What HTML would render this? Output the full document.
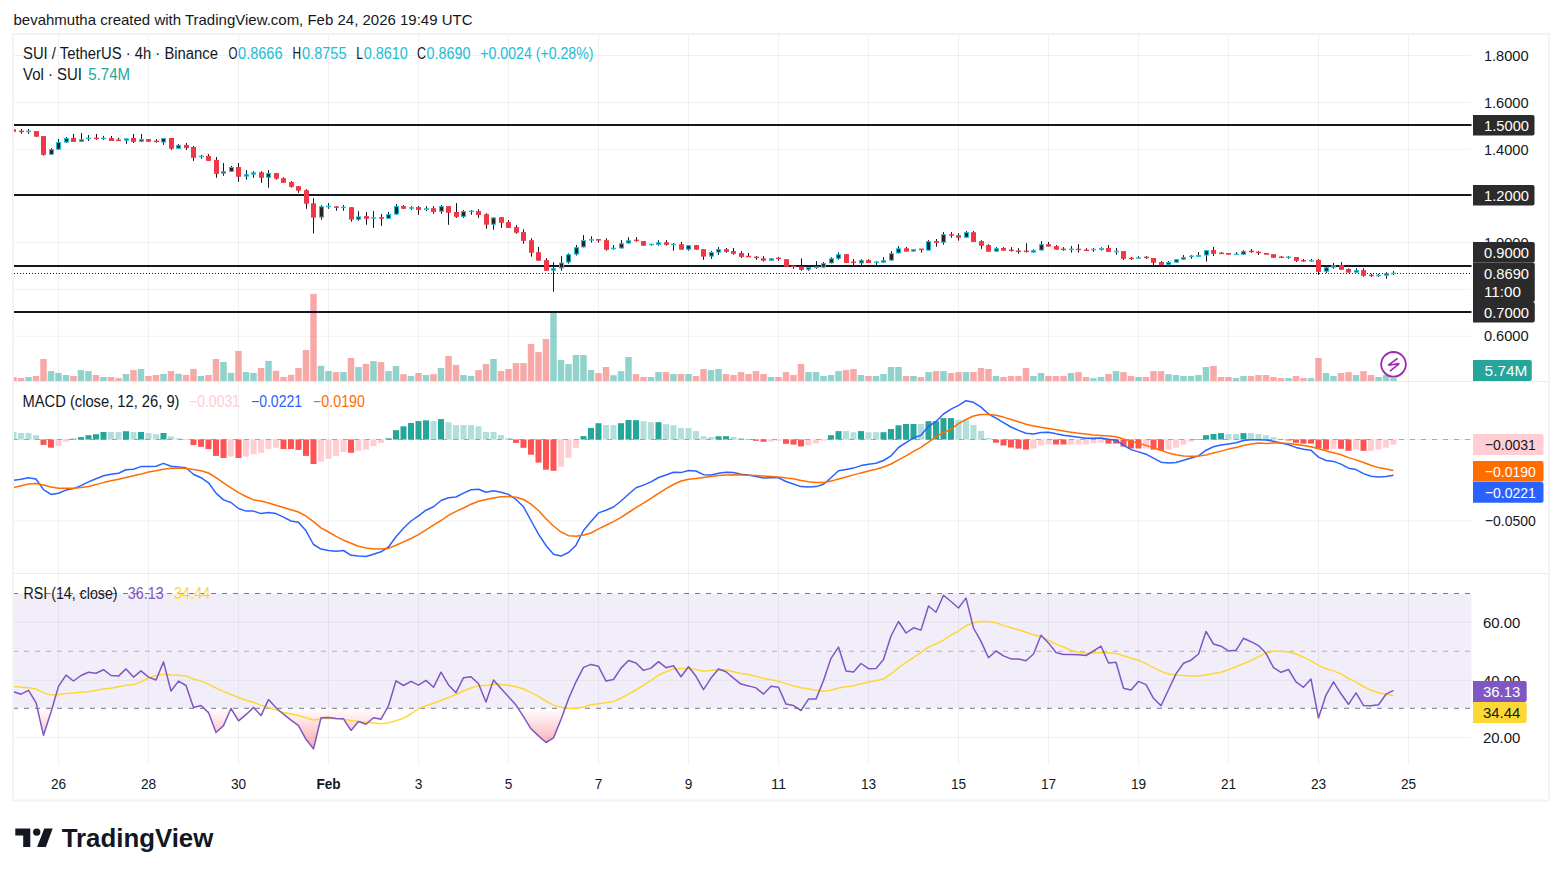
<!DOCTYPE html>
<html><head><meta charset="utf-8"><style>html,body{margin:0;padding:0;background:#fff;width:1562px;height:876px;overflow:hidden}svg{display:block}</style></head>
<body><svg width="1562" height="876" viewBox="0 0 1562 876" font-family="Liberation Sans">
<defs><linearGradient id="os" gradientUnits="userSpaceOnUse" x1="0" y1="708.3" x2="0" y2="750"><stop offset="0" stop-color="#f23645" stop-opacity="0"/><stop offset="1" stop-color="#f23645" stop-opacity="0.45"/></linearGradient><clipPath id="plot"><rect x="14" y="35" width="1457.5" height="730"/></clipPath><clipPath id="pp"><rect x="14" y="35" width="1457.5" height="346"/></clipPath></defs>
<rect width="1562" height="876" fill="#ffffff"/>
<text x="13.5" y="25.2" font-size="15" fill="#131722" text-anchor="start" font-weight="normal" textLength="459" lengthAdjust="spacingAndGlyphs">bevahmutha created with TradingView.com, Feb 24, 2026 19:49 UTC</text>
<rect x="13" y="34" width="1536" height="766.5" fill="none" stroke="#f3f3f3" stroke-width="2"/>
<line x1="58.5" y1="35" x2="58.5" y2="765" stroke="#2a2e39" stroke-opacity="0.065" stroke-width="1"/>
<line x1="148.5" y1="35" x2="148.5" y2="765" stroke="#2a2e39" stroke-opacity="0.065" stroke-width="1"/>
<line x1="238.5" y1="35" x2="238.5" y2="765" stroke="#2a2e39" stroke-opacity="0.065" stroke-width="1"/>
<line x1="328.5" y1="35" x2="328.5" y2="765" stroke="#2a2e39" stroke-opacity="0.065" stroke-width="1"/>
<line x1="418.5" y1="35" x2="418.5" y2="765" stroke="#2a2e39" stroke-opacity="0.065" stroke-width="1"/>
<line x1="508.5" y1="35" x2="508.5" y2="765" stroke="#2a2e39" stroke-opacity="0.065" stroke-width="1"/>
<line x1="598.5" y1="35" x2="598.5" y2="765" stroke="#2a2e39" stroke-opacity="0.065" stroke-width="1"/>
<line x1="688.5" y1="35" x2="688.5" y2="765" stroke="#2a2e39" stroke-opacity="0.065" stroke-width="1"/>
<line x1="778.5" y1="35" x2="778.5" y2="765" stroke="#2a2e39" stroke-opacity="0.065" stroke-width="1"/>
<line x1="868.5" y1="35" x2="868.5" y2="765" stroke="#2a2e39" stroke-opacity="0.065" stroke-width="1"/>
<line x1="958.5" y1="35" x2="958.5" y2="765" stroke="#2a2e39" stroke-opacity="0.065" stroke-width="1"/>
<line x1="1048.5" y1="35" x2="1048.5" y2="765" stroke="#2a2e39" stroke-opacity="0.065" stroke-width="1"/>
<line x1="1138.5" y1="35" x2="1138.5" y2="765" stroke="#2a2e39" stroke-opacity="0.065" stroke-width="1"/>
<line x1="1228.5" y1="35" x2="1228.5" y2="765" stroke="#2a2e39" stroke-opacity="0.065" stroke-width="1"/>
<line x1="1318.5" y1="35" x2="1318.5" y2="765" stroke="#2a2e39" stroke-opacity="0.065" stroke-width="1"/>
<line x1="1408.5" y1="35" x2="1408.5" y2="765" stroke="#2a2e39" stroke-opacity="0.065" stroke-width="1"/>
<line x1="14" y1="55.5" x2="1471.5" y2="55.5" stroke="#2a2e39" stroke-opacity="0.065" stroke-width="1"/>
<line x1="14" y1="102.5" x2="1471.5" y2="102.5" stroke="#2a2e39" stroke-opacity="0.065" stroke-width="1"/>
<line x1="14" y1="149.3" x2="1471.5" y2="149.3" stroke="#2a2e39" stroke-opacity="0.065" stroke-width="1"/>
<line x1="14" y1="195.5" x2="1471.5" y2="195.5" stroke="#2a2e39" stroke-opacity="0.065" stroke-width="1"/>
<line x1="14" y1="242.5" x2="1471.5" y2="242.5" stroke="#2a2e39" stroke-opacity="0.065" stroke-width="1"/>
<line x1="14" y1="289.3" x2="1471.5" y2="289.3" stroke="#2a2e39" stroke-opacity="0.065" stroke-width="1"/>
<line x1="14" y1="336.3" x2="1471.5" y2="336.3" stroke="#2a2e39" stroke-opacity="0.065" stroke-width="1"/>
<line x1="14" y1="439.5" x2="1471.5" y2="439.5" stroke="#2a2e39" stroke-opacity="0.065" stroke-width="1"/>
<line x1="14" y1="521" x2="1471.5" y2="521" stroke="#2a2e39" stroke-opacity="0.065" stroke-width="1"/>
<rect x="14" y="593.5" width="1457.5" height="114.8" fill="#7e57c2" fill-opacity="0.1"/>
<line x1="14" y1="622.3" x2="1471.5" y2="622.3" stroke="#2a2e39" stroke-opacity="0.065" stroke-width="1"/>
<line x1="14" y1="680.3" x2="1471.5" y2="680.3" stroke="#2a2e39" stroke-opacity="0.065" stroke-width="1"/>
<line x1="14" y1="737.5" x2="1471.5" y2="737.5" stroke="#2a2e39" stroke-opacity="0.065" stroke-width="1"/>
<line x1="14" y1="381.5" x2="1548" y2="381.5" stroke="#ececec" stroke-width="1"/>
<line x1="14" y1="573.5" x2="1548" y2="573.5" stroke="#ececec" stroke-width="1"/>
<g clip-path="url(#pp)" fill-opacity="0.5">
<rect x="10.25" y="377" width="6.5" height="4" fill="#ef5350"/>
<rect x="17.75" y="378.1" width="6.5" height="2.9" fill="#ef5350"/>
<rect x="25.25" y="377" width="6.5" height="4" fill="#26a69a"/>
<rect x="32.75" y="376" width="6.5" height="5" fill="#ef5350"/>
<rect x="40.25" y="359" width="6.5" height="22" fill="#ef5350"/>
<rect x="47.75" y="371.1" width="6.5" height="9.9" fill="#26a69a"/>
<rect x="55.25" y="372.9" width="6.5" height="8.1" fill="#26a69a"/>
<rect x="62.75" y="375" width="6.5" height="6" fill="#26a69a"/>
<rect x="70.25" y="376" width="6.5" height="5" fill="#ef5350"/>
<rect x="77.75" y="370.1" width="6.5" height="10.9" fill="#26a69a"/>
<rect x="85.25" y="371.1" width="6.5" height="9.9" fill="#26a69a"/>
<rect x="92.75" y="375" width="6.5" height="6" fill="#ef5350"/>
<rect x="100.25" y="377" width="6.5" height="4" fill="#26a69a"/>
<rect x="107.75" y="377" width="6.5" height="4" fill="#ef5350"/>
<rect x="115.25" y="378.1" width="6.5" height="2.9" fill="#ef5350"/>
<rect x="122.75" y="374" width="6.5" height="7" fill="#26a69a"/>
<rect x="130.25" y="370.1" width="6.5" height="10.9" fill="#ef5350"/>
<rect x="137.75" y="369" width="6.5" height="12" fill="#26a69a"/>
<rect x="145.25" y="376" width="6.5" height="5" fill="#ef5350"/>
<rect x="152.75" y="375" width="6.5" height="6" fill="#ef5350"/>
<rect x="160.25" y="374" width="6.5" height="7" fill="#26a69a"/>
<rect x="167.75" y="371" width="6.5" height="10" fill="#ef5350"/>
<rect x="175.25" y="373.8" width="6.5" height="7.2" fill="#26a69a"/>
<rect x="182.75" y="374.9" width="6.5" height="6.1" fill="#ef5350"/>
<rect x="190.25" y="368.9" width="6.5" height="12.1" fill="#ef5350"/>
<rect x="197.75" y="376" width="6.5" height="5" fill="#26a69a"/>
<rect x="205.25" y="374.9" width="6.5" height="6.1" fill="#ef5350"/>
<rect x="212.75" y="359" width="6.5" height="22" fill="#ef5350"/>
<rect x="220.25" y="362" width="6.5" height="19" fill="#26a69a"/>
<rect x="227.75" y="372.9" width="6.5" height="8.1" fill="#26a69a"/>
<rect x="235.25" y="351" width="6.5" height="30" fill="#ef5350"/>
<rect x="242.75" y="372" width="6.5" height="9" fill="#26a69a"/>
<rect x="250.25" y="372.9" width="6.5" height="8.1" fill="#26a69a"/>
<rect x="257.75" y="368" width="6.5" height="13" fill="#ef5350"/>
<rect x="265.25" y="360.9" width="6.5" height="20.1" fill="#26a69a"/>
<rect x="272.75" y="370.8" width="6.5" height="10.2" fill="#ef5350"/>
<rect x="280.25" y="376.9" width="6.5" height="4.1" fill="#ef5350"/>
<rect x="287.75" y="374.9" width="6.5" height="6.1" fill="#ef5350"/>
<rect x="295.25" y="368" width="6.5" height="13" fill="#ef5350"/>
<rect x="302.75" y="350" width="6.5" height="31" fill="#ef5350"/>
<rect x="310.25" y="293.9" width="6.5" height="87.1" fill="#ef5350"/>
<rect x="317.75" y="365.8" width="6.5" height="15.2" fill="#26a69a"/>
<rect x="325.25" y="371" width="6.5" height="10" fill="#26a69a"/>
<rect x="332.75" y="372.1" width="6.5" height="8.9" fill="#ef5350"/>
<rect x="340.25" y="372.1" width="6.5" height="8.9" fill="#26a69a"/>
<rect x="347.75" y="358" width="6.5" height="23" fill="#ef5350"/>
<rect x="355.25" y="367" width="6.5" height="14" fill="#26a69a"/>
<rect x="362.75" y="363.9" width="6.5" height="17.1" fill="#ef5350"/>
<rect x="370.25" y="361.1" width="6.5" height="19.9" fill="#26a69a"/>
<rect x="377.75" y="362.1" width="6.5" height="18.9" fill="#ef5350"/>
<rect x="385.25" y="371.1" width="6.5" height="9.9" fill="#26a69a"/>
<rect x="392.75" y="366" width="6.5" height="15" fill="#26a69a"/>
<rect x="400.25" y="374.2" width="6.5" height="6.8" fill="#ef5350"/>
<rect x="407.75" y="376" width="6.5" height="5" fill="#26a69a"/>
<rect x="415.25" y="373" width="6.5" height="8" fill="#ef5350"/>
<rect x="422.75" y="375" width="6.5" height="6" fill="#26a69a"/>
<rect x="430.25" y="374.2" width="6.5" height="6.8" fill="#ef5350"/>
<rect x="437.75" y="368" width="6.5" height="13" fill="#26a69a"/>
<rect x="445.25" y="355.9" width="6.5" height="25.1" fill="#ef5350"/>
<rect x="452.75" y="364.9" width="6.5" height="16.1" fill="#ef5350"/>
<rect x="460.25" y="375" width="6.5" height="6" fill="#26a69a"/>
<rect x="467.75" y="376" width="6.5" height="5" fill="#26a69a"/>
<rect x="475.25" y="370.1" width="6.5" height="10.9" fill="#ef5350"/>
<rect x="482.75" y="364.1" width="6.5" height="16.9" fill="#ef5350"/>
<rect x="490.25" y="359" width="6.5" height="22" fill="#26a69a"/>
<rect x="497.75" y="371.1" width="6.5" height="9.9" fill="#ef5350"/>
<rect x="505.25" y="369" width="6.5" height="12" fill="#ef5350"/>
<rect x="512.75" y="363.1" width="6.5" height="17.9" fill="#ef5350"/>
<rect x="520.25" y="363.1" width="6.5" height="17.9" fill="#ef5350"/>
<rect x="527.75" y="343.9" width="6.5" height="37.1" fill="#ef5350"/>
<rect x="535.25" y="352.1" width="6.5" height="28.9" fill="#ef5350"/>
<rect x="542.75" y="339" width="6.5" height="42" fill="#ef5350"/>
<rect x="550.25" y="313" width="6.5" height="68" fill="#26a69a"/>
<rect x="557.75" y="360" width="6.5" height="21" fill="#26a69a"/>
<rect x="565.25" y="364.1" width="6.5" height="16.9" fill="#26a69a"/>
<rect x="572.75" y="355" width="6.5" height="26" fill="#26a69a"/>
<rect x="580.25" y="355" width="6.5" height="26" fill="#26a69a"/>
<rect x="587.75" y="370" width="6.5" height="11" fill="#26a69a"/>
<rect x="595.25" y="373.1" width="6.5" height="7.9" fill="#ef5350"/>
<rect x="602.75" y="367" width="6.5" height="14" fill="#ef5350"/>
<rect x="610.25" y="375.2" width="6.5" height="5.8" fill="#26a69a"/>
<rect x="617.75" y="371.1" width="6.5" height="9.9" fill="#26a69a"/>
<rect x="625.25" y="357" width="6.5" height="24" fill="#26a69a"/>
<rect x="632.75" y="374.1" width="6.5" height="6.9" fill="#ef5350"/>
<rect x="640.25" y="377" width="6.5" height="4" fill="#ef5350"/>
<rect x="647.75" y="377" width="6.5" height="4" fill="#26a69a"/>
<rect x="655.25" y="372.1" width="6.5" height="8.9" fill="#26a69a"/>
<rect x="662.75" y="372.1" width="6.5" height="8.9" fill="#ef5350"/>
<rect x="670.25" y="374" width="6.5" height="7" fill="#26a69a"/>
<rect x="677.75" y="374" width="6.5" height="7" fill="#ef5350"/>
<rect x="685.25" y="374" width="6.5" height="7" fill="#26a69a"/>
<rect x="692.75" y="376" width="6.5" height="5" fill="#ef5350"/>
<rect x="700.25" y="369" width="6.5" height="12" fill="#ef5350"/>
<rect x="707.75" y="370.1" width="6.5" height="10.9" fill="#26a69a"/>
<rect x="715.25" y="369" width="6.5" height="12" fill="#26a69a"/>
<rect x="722.75" y="374" width="6.5" height="7" fill="#ef5350"/>
<rect x="730.25" y="375" width="6.5" height="6" fill="#ef5350"/>
<rect x="737.75" y="372.1" width="6.5" height="8.9" fill="#ef5350"/>
<rect x="745.25" y="374" width="6.5" height="7" fill="#ef5350"/>
<rect x="752.75" y="371.1" width="6.5" height="9.9" fill="#ef5350"/>
<rect x="760.25" y="374" width="6.5" height="7" fill="#ef5350"/>
<rect x="767.75" y="377" width="6.5" height="4" fill="#26a69a"/>
<rect x="775.25" y="377" width="6.5" height="4" fill="#ef5350"/>
<rect x="782.75" y="372.1" width="6.5" height="8.9" fill="#ef5350"/>
<rect x="790.25" y="375" width="6.5" height="6" fill="#ef5350"/>
<rect x="797.75" y="363.9" width="6.5" height="17.1" fill="#ef5350"/>
<rect x="805.25" y="372.1" width="6.5" height="8.9" fill="#26a69a"/>
<rect x="812.75" y="372.1" width="6.5" height="8.9" fill="#26a69a"/>
<rect x="820.25" y="376" width="6.5" height="5" fill="#26a69a"/>
<rect x="827.75" y="375" width="6.5" height="6" fill="#26a69a"/>
<rect x="835.25" y="371.1" width="6.5" height="9.9" fill="#26a69a"/>
<rect x="842.75" y="370.1" width="6.5" height="10.9" fill="#ef5350"/>
<rect x="850.25" y="369" width="6.5" height="12" fill="#ef5350"/>
<rect x="857.75" y="375" width="6.5" height="6" fill="#26a69a"/>
<rect x="865.25" y="376" width="6.5" height="5" fill="#ef5350"/>
<rect x="872.75" y="376" width="6.5" height="5" fill="#26a69a"/>
<rect x="880.25" y="374" width="6.5" height="7" fill="#26a69a"/>
<rect x="887.75" y="367" width="6.5" height="14" fill="#26a69a"/>
<rect x="895.25" y="367" width="6.5" height="14" fill="#26a69a"/>
<rect x="902.75" y="376" width="6.5" height="5" fill="#ef5350"/>
<rect x="910.25" y="376" width="6.5" height="5" fill="#26a69a"/>
<rect x="917.75" y="377" width="6.5" height="4" fill="#ef5350"/>
<rect x="925.25" y="372.1" width="6.5" height="8.9" fill="#26a69a"/>
<rect x="932.75" y="371.1" width="6.5" height="9.9" fill="#ef5350"/>
<rect x="940.25" y="371.1" width="6.5" height="9.9" fill="#26a69a"/>
<rect x="947.75" y="373" width="6.5" height="8" fill="#ef5350"/>
<rect x="955.25" y="372.1" width="6.5" height="8.9" fill="#ef5350"/>
<rect x="962.75" y="372.1" width="6.5" height="8.9" fill="#26a69a"/>
<rect x="970.25" y="372.1" width="6.5" height="8.9" fill="#ef5350"/>
<rect x="977.75" y="368" width="6.5" height="13" fill="#ef5350"/>
<rect x="985.25" y="369" width="6.5" height="12" fill="#ef5350"/>
<rect x="992.75" y="376" width="6.5" height="5" fill="#26a69a"/>
<rect x="1000.25" y="377" width="6.5" height="4" fill="#ef5350"/>
<rect x="1007.75" y="376" width="6.5" height="5" fill="#ef5350"/>
<rect x="1015.25" y="376" width="6.5" height="5" fill="#ef5350"/>
<rect x="1022.75" y="368" width="6.5" height="13" fill="#ef5350"/>
<rect x="1030.25" y="376" width="6.5" height="5" fill="#26a69a"/>
<rect x="1037.75" y="373" width="6.5" height="8" fill="#26a69a"/>
<rect x="1045.25" y="376" width="6.5" height="5" fill="#ef5350"/>
<rect x="1052.75" y="376" width="6.5" height="5" fill="#ef5350"/>
<rect x="1060.25" y="376" width="6.5" height="5" fill="#ef5350"/>
<rect x="1067.75" y="373" width="6.5" height="8" fill="#26a69a"/>
<rect x="1075.25" y="372.1" width="6.5" height="8.9" fill="#ef5350"/>
<rect x="1082.75" y="377" width="6.5" height="4" fill="#ef5350"/>
<rect x="1090.25" y="378.1" width="6.5" height="2.9" fill="#26a69a"/>
<rect x="1097.75" y="377" width="6.5" height="4" fill="#26a69a"/>
<rect x="1105.25" y="374" width="6.5" height="7" fill="#ef5350"/>
<rect x="1112.75" y="371.1" width="6.5" height="9.9" fill="#26a69a"/>
<rect x="1120.25" y="372.1" width="6.5" height="8.9" fill="#ef5350"/>
<rect x="1127.75" y="376" width="6.5" height="5" fill="#ef5350"/>
<rect x="1135.25" y="377" width="6.5" height="4" fill="#26a69a"/>
<rect x="1142.75" y="377" width="6.5" height="4" fill="#ef5350"/>
<rect x="1150.25" y="371.1" width="6.5" height="9.9" fill="#ef5350"/>
<rect x="1157.75" y="371.1" width="6.5" height="9.9" fill="#ef5350"/>
<rect x="1165.25" y="374.2" width="6.5" height="6.8" fill="#26a69a"/>
<rect x="1172.75" y="375" width="6.5" height="6" fill="#26a69a"/>
<rect x="1180.25" y="376" width="6.5" height="5" fill="#26a69a"/>
<rect x="1187.75" y="376" width="6.5" height="5" fill="#26a69a"/>
<rect x="1195.25" y="375" width="6.5" height="6" fill="#26a69a"/>
<rect x="1202.75" y="367" width="6.5" height="14" fill="#26a69a"/>
<rect x="1210.25" y="366" width="6.5" height="15" fill="#ef5350"/>
<rect x="1217.75" y="377" width="6.5" height="4" fill="#ef5350"/>
<rect x="1225.25" y="377" width="6.5" height="4" fill="#ef5350"/>
<rect x="1232.75" y="378.1" width="6.5" height="2.9" fill="#26a69a"/>
<rect x="1240.25" y="376" width="6.5" height="5" fill="#26a69a"/>
<rect x="1247.75" y="376" width="6.5" height="5" fill="#ef5350"/>
<rect x="1255.25" y="375" width="6.5" height="6" fill="#ef5350"/>
<rect x="1262.75" y="375" width="6.5" height="6" fill="#ef5350"/>
<rect x="1270.25" y="377" width="6.5" height="4" fill="#ef5350"/>
<rect x="1277.75" y="378.1" width="6.5" height="2.9" fill="#ef5350"/>
<rect x="1285.25" y="378.1" width="6.5" height="2.9" fill="#26a69a"/>
<rect x="1292.75" y="376" width="6.5" height="5" fill="#ef5350"/>
<rect x="1300.25" y="378.1" width="6.5" height="2.9" fill="#ef5350"/>
<rect x="1307.75" y="378.1" width="6.5" height="2.9" fill="#26a69a"/>
<rect x="1315.25" y="358" width="6.5" height="23" fill="#ef5350"/>
<rect x="1322.75" y="373" width="6.5" height="8" fill="#26a69a"/>
<rect x="1330.25" y="376" width="6.5" height="5" fill="#26a69a"/>
<rect x="1337.75" y="373" width="6.5" height="8" fill="#ef5350"/>
<rect x="1345.25" y="372.1" width="6.5" height="8.9" fill="#ef5350"/>
<rect x="1352.75" y="375" width="6.5" height="6" fill="#26a69a"/>
<rect x="1360.25" y="371.1" width="6.5" height="9.9" fill="#ef5350"/>
<rect x="1367.75" y="375" width="6.5" height="6" fill="#ef5350"/>
<rect x="1375.25" y="377" width="6.5" height="4" fill="#26a69a"/>
<rect x="1382.75" y="375" width="6.5" height="6" fill="#26a69a"/>
<rect x="1390.25" y="378.1" width="6.5" height="2.9" fill="#26a69a"/>
</g>
<line x1="14" y1="125" x2="1471.5" y2="125" stroke="#131722" stroke-width="2"/>
<line x1="14" y1="195" x2="1471.5" y2="195" stroke="#131722" stroke-width="2"/>
<line x1="14" y1="266" x2="1471.5" y2="266" stroke="#131722" stroke-width="2"/>
<line x1="14" y1="312" x2="1471.5" y2="312" stroke="#131722" stroke-width="2"/>
<line x1="14" y1="273.5" x2="1471.5" y2="273.5" stroke="#131722" stroke-width="1" stroke-dasharray="1 2"/>
<g clip-path="url(#pp)">
<line x1="13.5" y1="127.3" x2="13.5" y2="131.9" stroke="#131722" stroke-width="1"/>
<rect x="11" y="129.2" width="5" height="2.7" fill="#f23645"/>
<line x1="21.5" y1="129" x2="21.5" y2="133.8" stroke="#131722" stroke-width="1"/>
<rect x="19" y="130.65" width="5" height="1.5" fill="#f23645"/>
<line x1="28.5" y1="129" x2="28.5" y2="133.8" stroke="#131722" stroke-width="1"/>
<rect x="26" y="130.65" width="5" height="1.5" fill="#1fc0d8"/>
<line x1="36.5" y1="131.1" x2="36.5" y2="136.7" stroke="#131722" stroke-width="1"/>
<rect x="34" y="131.1" width="5" height="5.6" fill="#f23645"/>
<line x1="43.5" y1="136.1" x2="43.5" y2="155.7" stroke="#131722" stroke-width="1"/>
<rect x="41" y="136.1" width="5" height="18.7" fill="#f23645"/>
<line x1="51.5" y1="148" x2="51.5" y2="154.8" stroke="#131722" stroke-width="1"/>
<rect x="49.5" y="149.7" width="4" height="4.6" fill="#2a2222" stroke="#1fc0d8" stroke-width="1"/>
<line x1="58.5" y1="139" x2="58.5" y2="149.7" stroke="#131722" stroke-width="1"/>
<rect x="56.5" y="142.5" width="4" height="6.7" fill="#2a2222" stroke="#1fc0d8" stroke-width="1"/>
<line x1="66.5" y1="137.1" x2="66.5" y2="142.6" stroke="#131722" stroke-width="1"/>
<rect x="64.5" y="138.5" width="4" height="3.6" fill="#2a2222" stroke="#1fc0d8" stroke-width="1"/>
<line x1="73.5" y1="134" x2="73.5" y2="141.9" stroke="#131722" stroke-width="1"/>
<rect x="71" y="137.9" width="5" height="4" fill="#f23645"/>
<line x1="81.5" y1="133" x2="81.5" y2="141.9" stroke="#131722" stroke-width="1"/>
<rect x="79.5" y="139.7" width="4" height="1.7" fill="#2a2222" stroke="#1fc0d8" stroke-width="1"/>
<line x1="88.5" y1="135.1" x2="88.5" y2="141" stroke="#131722" stroke-width="1"/>
<rect x="86" y="137.65" width="5" height="1.5" fill="#1fc0d8"/>
<line x1="96.5" y1="134" x2="96.5" y2="139.7" stroke="#131722" stroke-width="1"/>
<rect x="94" y="137.65" width="5" height="1.5" fill="#f23645"/>
<line x1="103.5" y1="135.9" x2="103.5" y2="140" stroke="#131722" stroke-width="1"/>
<rect x="101" y="137.65" width="5" height="1.5" fill="#1fc0d8"/>
<line x1="111.5" y1="135.9" x2="111.5" y2="141" stroke="#131722" stroke-width="1"/>
<rect x="109" y="138" width="5" height="3" fill="#f23645"/>
<line x1="118.5" y1="137.9" x2="118.5" y2="140.3" stroke="#131722" stroke-width="1"/>
<rect x="116" y="139.55" width="5" height="1.5" fill="#f23645"/>
<line x1="126.5" y1="138.4" x2="126.5" y2="143.8" stroke="#131722" stroke-width="1"/>
<rect x="124.5" y="138.9" width="4" height="1.3" fill="#2a2222" stroke="#1fc0d8" stroke-width="1"/>
<line x1="133.5" y1="134" x2="133.5" y2="143" stroke="#131722" stroke-width="1"/>
<rect x="131" y="138" width="5" height="3.8" fill="#f23645"/>
<line x1="141.5" y1="134" x2="141.5" y2="141.8" stroke="#131722" stroke-width="1"/>
<rect x="139.5" y="139.6" width="4" height="1.7" fill="#2a2222" stroke="#1fc0d8" stroke-width="1"/>
<line x1="148.5" y1="139.1" x2="148.5" y2="141.8" stroke="#131722" stroke-width="1"/>
<rect x="146" y="139.1" width="5" height="2.7" fill="#f23645"/>
<line x1="156.5" y1="139.1" x2="156.5" y2="142.7" stroke="#131722" stroke-width="1"/>
<rect x="154" y="140.65" width="5" height="1.5" fill="#f23645"/>
<line x1="163.5" y1="138" x2="163.5" y2="144.9" stroke="#131722" stroke-width="1"/>
<rect x="161.5" y="138.5" width="4" height="3.6" fill="#2a2222" stroke="#1fc0d8" stroke-width="1"/>
<line x1="171.5" y1="138" x2="171.5" y2="149.9" stroke="#131722" stroke-width="1"/>
<rect x="169" y="138" width="5" height="10.7" fill="#f23645"/>
<line x1="178.5" y1="144" x2="178.5" y2="148.7" stroke="#131722" stroke-width="1"/>
<rect x="176.5" y="145.4" width="4" height="2.8" fill="#2a2222" stroke="#1fc0d8" stroke-width="1"/>
<line x1="186.5" y1="143" x2="186.5" y2="149.9" stroke="#131722" stroke-width="1"/>
<rect x="184" y="144.9" width="5" height="3.1" fill="#f23645"/>
<line x1="193.5" y1="146" x2="193.5" y2="160.9" stroke="#131722" stroke-width="1"/>
<rect x="191" y="147" width="5" height="10.8" fill="#f23645"/>
<line x1="201.5" y1="154.9" x2="201.5" y2="158.7" stroke="#131722" stroke-width="1"/>
<rect x="199" y="155.65" width="5" height="1.5" fill="#1fc0d8"/>
<line x1="208.5" y1="154.1" x2="208.5" y2="160.9" stroke="#131722" stroke-width="1"/>
<rect x="206" y="156" width="5" height="4.9" fill="#f23645"/>
<line x1="216.5" y1="157" x2="216.5" y2="177.8" stroke="#131722" stroke-width="1"/>
<rect x="214" y="159.9" width="5" height="14" fill="#f23645"/>
<line x1="223.5" y1="163" x2="223.5" y2="175.8" stroke="#131722" stroke-width="1"/>
<rect x="221.5" y="171.7" width="4" height="1.5" fill="#2a2222" stroke="#1fc0d8" stroke-width="1"/>
<line x1="231.5" y1="166" x2="231.5" y2="171.8" stroke="#131722" stroke-width="1"/>
<rect x="229.5" y="167.5" width="4" height="3.8" fill="#2a2222" stroke="#1fc0d8" stroke-width="1"/>
<line x1="238.5" y1="163" x2="238.5" y2="181.8" stroke="#131722" stroke-width="1"/>
<rect x="236" y="167" width="5" height="9.8" fill="#f23645"/>
<line x1="246.5" y1="170.1" x2="246.5" y2="179.7" stroke="#131722" stroke-width="1"/>
<rect x="244.5" y="174.7" width="4" height="1.4" fill="#2a2222" stroke="#1fc0d8" stroke-width="1"/>
<line x1="253.5" y1="171.2" x2="253.5" y2="177.8" stroke="#131722" stroke-width="1"/>
<rect x="251.5" y="172.8" width="4" height="1.3" fill="#2a2222" stroke="#1fc0d8" stroke-width="1"/>
<line x1="261.5" y1="171.2" x2="261.5" y2="182.8" stroke="#131722" stroke-width="1"/>
<rect x="259" y="172.3" width="5" height="5.5" fill="#f23645"/>
<line x1="268.5" y1="170.1" x2="268.5" y2="187.7" stroke="#131722" stroke-width="1"/>
<rect x="266.5" y="173.6" width="4" height="3.7" fill="#2a2222" stroke="#1fc0d8" stroke-width="1"/>
<line x1="276.5" y1="173.1" x2="276.5" y2="179.7" stroke="#131722" stroke-width="1"/>
<rect x="274" y="173.1" width="5" height="5.6" fill="#f23645"/>
<line x1="283.5" y1="177.2" x2="283.5" y2="182.8" stroke="#131722" stroke-width="1"/>
<rect x="281" y="178.3" width="5" height="4.5" fill="#f23645"/>
<line x1="291.5" y1="181.1" x2="291.5" y2="187.7" stroke="#131722" stroke-width="1"/>
<rect x="289" y="182.1" width="5" height="4.7" fill="#f23645"/>
<line x1="298.5" y1="186.2" x2="298.5" y2="192.8" stroke="#131722" stroke-width="1"/>
<rect x="296" y="186.2" width="5" height="4.5" fill="#f23645"/>
<line x1="306.5" y1="189.2" x2="306.5" y2="208.8" stroke="#131722" stroke-width="1"/>
<rect x="304" y="190.2" width="5" height="13.5" fill="#f23645"/>
<line x1="313.5" y1="198.2" x2="313.5" y2="233.5" stroke="#131722" stroke-width="1"/>
<rect x="311" y="203.3" width="5" height="14.3" fill="#f23645"/>
<line x1="321.5" y1="205.2" x2="321.5" y2="219.8" stroke="#131722" stroke-width="1"/>
<rect x="319.5" y="206.8" width="4" height="10.3" fill="#2a2222" stroke="#1fc0d8" stroke-width="1"/>
<line x1="328.5" y1="203.1" x2="328.5" y2="208.8" stroke="#131722" stroke-width="1"/>
<rect x="326" y="205.75" width="5" height="1.5" fill="#1fc0d8"/>
<line x1="336.5" y1="206.3" x2="336.5" y2="210.8" stroke="#131722" stroke-width="1"/>
<rect x="334" y="206.3" width="5" height="1.5" fill="#f23645"/>
<line x1="343.5" y1="205" x2="343.5" y2="210.8" stroke="#131722" stroke-width="1"/>
<rect x="341" y="206.65" width="5" height="1.5" fill="#1fc0d8"/>
<line x1="351.5" y1="207.2" x2="351.5" y2="221.7" stroke="#131722" stroke-width="1"/>
<rect x="349" y="207.2" width="5" height="12.4" fill="#f23645"/>
<line x1="358.5" y1="211.2" x2="358.5" y2="220.8" stroke="#131722" stroke-width="1"/>
<rect x="356.5" y="216.9" width="4" height="2.4" fill="#2a2222" stroke="#1fc0d8" stroke-width="1"/>
<line x1="366.5" y1="212" x2="366.5" y2="224.8" stroke="#131722" stroke-width="1"/>
<rect x="364" y="216.1" width="5" height="2.7" fill="#f23645"/>
<line x1="373.5" y1="211.1" x2="373.5" y2="227.9" stroke="#131722" stroke-width="1"/>
<rect x="371" y="217.3" width="5" height="1.5" fill="#1fc0d8"/>
<line x1="381.5" y1="214" x2="381.5" y2="225.9" stroke="#131722" stroke-width="1"/>
<rect x="379" y="217.1" width="5" height="1.7" fill="#f23645"/>
<line x1="388.5" y1="212" x2="388.5" y2="218.8" stroke="#131722" stroke-width="1"/>
<rect x="386.5" y="214.7" width="4" height="3.6" fill="#2a2222" stroke="#1fc0d8" stroke-width="1"/>
<line x1="396.5" y1="204.1" x2="396.5" y2="214.6" stroke="#131722" stroke-width="1"/>
<rect x="394.5" y="206.6" width="4" height="7.5" fill="#2a2222" stroke="#1fc0d8" stroke-width="1"/>
<line x1="403.5" y1="205" x2="403.5" y2="208.8" stroke="#131722" stroke-width="1"/>
<rect x="401" y="206.1" width="5" height="2.7" fill="#f23645"/>
<line x1="411.5" y1="206.1" x2="411.5" y2="210" stroke="#131722" stroke-width="1"/>
<rect x="409" y="207.1" width="5" height="1.7" fill="#1fc0d8"/>
<line x1="418.5" y1="206.1" x2="418.5" y2="214.8" stroke="#131722" stroke-width="1"/>
<rect x="416" y="207.1" width="5" height="2.9" fill="#f23645"/>
<line x1="426.5" y1="206.1" x2="426.5" y2="211.1" stroke="#131722" stroke-width="1"/>
<rect x="424" y="208.2" width="5" height="1.8" fill="#1fc0d8"/>
<line x1="433.5" y1="206.1" x2="433.5" y2="213.8" stroke="#131722" stroke-width="1"/>
<rect x="431" y="208.2" width="5" height="3.7" fill="#f23645"/>
<line x1="441.5" y1="205" x2="441.5" y2="213.8" stroke="#131722" stroke-width="1"/>
<rect x="439.5" y="206.6" width="4" height="4.6" fill="#2a2222" stroke="#1fc0d8" stroke-width="1"/>
<line x1="448.5" y1="206.1" x2="448.5" y2="224.8" stroke="#131722" stroke-width="1"/>
<rect x="446" y="206.1" width="5" height="6.7" fill="#f23645"/>
<line x1="456.5" y1="203.1" x2="456.5" y2="217.9" stroke="#131722" stroke-width="1"/>
<rect x="454" y="212" width="5" height="4.9" fill="#f23645"/>
<line x1="463.5" y1="210" x2="463.5" y2="217.9" stroke="#131722" stroke-width="1"/>
<rect x="461.5" y="211.6" width="4" height="4.8" fill="#2a2222" stroke="#1fc0d8" stroke-width="1"/>
<line x1="471.5" y1="210" x2="471.5" y2="214.8" stroke="#131722" stroke-width="1"/>
<rect x="469" y="210.65" width="5" height="1.5" fill="#1fc0d8"/>
<line x1="478.5" y1="209.2" x2="478.5" y2="217.9" stroke="#131722" stroke-width="1"/>
<rect x="476" y="211.1" width="5" height="3.9" fill="#f23645"/>
<line x1="486.5" y1="213.2" x2="486.5" y2="228.8" stroke="#131722" stroke-width="1"/>
<rect x="484" y="214.2" width="5" height="10.5" fill="#f23645"/>
<line x1="493.5" y1="217.4" x2="493.5" y2="229.7" stroke="#131722" stroke-width="1"/>
<rect x="491.5" y="217.9" width="4" height="6.3" fill="#2a2222" stroke="#1fc0d8" stroke-width="1"/>
<line x1="501.5" y1="217.2" x2="501.5" y2="227.9" stroke="#131722" stroke-width="1"/>
<rect x="499" y="217.2" width="5" height="5.6" fill="#f23645"/>
<line x1="508.5" y1="220.1" x2="508.5" y2="227.9" stroke="#131722" stroke-width="1"/>
<rect x="506" y="222.1" width="5" height="5.8" fill="#f23645"/>
<line x1="516.5" y1="225.1" x2="516.5" y2="233.8" stroke="#131722" stroke-width="1"/>
<rect x="514" y="227.1" width="5" height="5.6" fill="#f23645"/>
<line x1="523.5" y1="229.2" x2="523.5" y2="243.8" stroke="#131722" stroke-width="1"/>
<rect x="521" y="232.1" width="5" height="8.8" fill="#f23645"/>
<line x1="531.5" y1="238.2" x2="531.5" y2="256.6" stroke="#131722" stroke-width="1"/>
<rect x="529" y="240.2" width="5" height="12.6" fill="#f23645"/>
<line x1="538.5" y1="247" x2="538.5" y2="260.7" stroke="#131722" stroke-width="1"/>
<rect x="536" y="252.2" width="5" height="8.5" fill="#f23645"/>
<line x1="546.5" y1="258.1" x2="546.5" y2="270.8" stroke="#131722" stroke-width="1"/>
<rect x="544" y="260.1" width="5" height="10.7" fill="#f23645"/>
<line x1="553.5" y1="262.2" x2="553.5" y2="291.7" stroke="#131722" stroke-width="1"/>
<rect x="551.5" y="268.7" width="4" height="1.5" fill="#2a2222" stroke="#1fc0d8" stroke-width="1"/>
<line x1="561.5" y1="256.1" x2="561.5" y2="270.7" stroke="#131722" stroke-width="1"/>
<rect x="559.5" y="263" width="4" height="4.9" fill="#2a2222" stroke="#1fc0d8" stroke-width="1"/>
<line x1="568.5" y1="253.3" x2="568.5" y2="263.7" stroke="#131722" stroke-width="1"/>
<rect x="566.5" y="254.7" width="4" height="7.3" fill="#2a2222" stroke="#1fc0d8" stroke-width="1"/>
<line x1="576.5" y1="245.1" x2="576.5" y2="255.6" stroke="#131722" stroke-width="1"/>
<rect x="574.5" y="247.7" width="4" height="6.3" fill="#2a2222" stroke="#1fc0d8" stroke-width="1"/>
<line x1="583.5" y1="235.1" x2="583.5" y2="247.4" stroke="#131722" stroke-width="1"/>
<rect x="581.5" y="240.6" width="4" height="6.3" fill="#2a2222" stroke="#1fc0d8" stroke-width="1"/>
<line x1="591.5" y1="236.3" x2="591.5" y2="242.6" stroke="#131722" stroke-width="1"/>
<rect x="589" y="239.15" width="5" height="1.5" fill="#1fc0d8"/>
<line x1="598.5" y1="239.2" x2="598.5" y2="242.6" stroke="#131722" stroke-width="1"/>
<rect x="596" y="239.1" width="5" height="1.5" fill="#f23645"/>
<line x1="606.5" y1="238.3" x2="606.5" y2="250.6" stroke="#131722" stroke-width="1"/>
<rect x="604" y="240.1" width="5" height="9.6" fill="#f23645"/>
<line x1="613.5" y1="245.1" x2="613.5" y2="249.7" stroke="#131722" stroke-width="1"/>
<rect x="611" y="247.75" width="5" height="1.5" fill="#1fc0d8"/>
<line x1="621.5" y1="240.1" x2="621.5" y2="248.5" stroke="#131722" stroke-width="1"/>
<rect x="619.5" y="243.8" width="4" height="4.2" fill="#2a2222" stroke="#1fc0d8" stroke-width="1"/>
<line x1="628.5" y1="237.2" x2="628.5" y2="243.5" stroke="#131722" stroke-width="1"/>
<rect x="626.5" y="240.8" width="4" height="2.2" fill="#2a2222" stroke="#1fc0d8" stroke-width="1"/>
<line x1="636.5" y1="237.1" x2="636.5" y2="241.7" stroke="#131722" stroke-width="1"/>
<rect x="634" y="239.65" width="5" height="1.5" fill="#f23645"/>
<line x1="643.5" y1="241.1" x2="643.5" y2="245.7" stroke="#131722" stroke-width="1"/>
<rect x="641" y="241.1" width="5" height="4.6" fill="#f23645"/>
<line x1="651.5" y1="244.4" x2="651.5" y2="245.7" stroke="#131722" stroke-width="1"/>
<rect x="649" y="243.65" width="5" height="1.5" fill="#1fc0d8"/>
<line x1="658.5" y1="240.2" x2="658.5" y2="245.7" stroke="#131722" stroke-width="1"/>
<rect x="656.5" y="242.8" width="4" height="1.5" fill="#2a2222" stroke="#1fc0d8" stroke-width="1"/>
<line x1="666.5" y1="240.2" x2="666.5" y2="245.7" stroke="#131722" stroke-width="1"/>
<rect x="664" y="242.3" width="5" height="2.5" fill="#f23645"/>
<line x1="673.5" y1="243" x2="673.5" y2="250.7" stroke="#131722" stroke-width="1"/>
<rect x="671" y="243.65" width="5" height="1.5" fill="#1fc0d8"/>
<line x1="681.5" y1="242" x2="681.5" y2="249.7" stroke="#131722" stroke-width="1"/>
<rect x="679" y="244.2" width="5" height="5.5" fill="#f23645"/>
<line x1="688.5" y1="245.1" x2="688.5" y2="250.7" stroke="#131722" stroke-width="1"/>
<rect x="686.5" y="245.6" width="4" height="3.6" fill="#2a2222" stroke="#1fc0d8" stroke-width="1"/>
<line x1="696.5" y1="245.1" x2="696.5" y2="249.7" stroke="#131722" stroke-width="1"/>
<rect x="694" y="245.1" width="5" height="4.6" fill="#f23645"/>
<line x1="703.5" y1="249.2" x2="703.5" y2="259.9" stroke="#131722" stroke-width="1"/>
<rect x="701" y="249.2" width="5" height="7.4" fill="#f23645"/>
<line x1="711.5" y1="251.1" x2="711.5" y2="258.8" stroke="#131722" stroke-width="1"/>
<rect x="709.5" y="252.5" width="4" height="3.6" fill="#2a2222" stroke="#1fc0d8" stroke-width="1"/>
<line x1="718.5" y1="247.1" x2="718.5" y2="254.8" stroke="#131722" stroke-width="1"/>
<rect x="716.5" y="249.5" width="4" height="2.6" fill="#2a2222" stroke="#1fc0d8" stroke-width="1"/>
<line x1="726.5" y1="248" x2="726.5" y2="252.8" stroke="#131722" stroke-width="1"/>
<rect x="724" y="249.2" width="5" height="2.7" fill="#f23645"/>
<line x1="733.5" y1="248" x2="733.5" y2="254.8" stroke="#131722" stroke-width="1"/>
<rect x="731" y="251.1" width="5" height="2.7" fill="#f23645"/>
<line x1="741.5" y1="251.1" x2="741.5" y2="257.9" stroke="#131722" stroke-width="1"/>
<rect x="739" y="253" width="5" height="3.9" fill="#f23645"/>
<line x1="748.5" y1="253" x2="748.5" y2="256.5" stroke="#131722" stroke-width="1"/>
<rect x="746" y="255.75" width="5" height="1.5" fill="#f23645"/>
<line x1="756.5" y1="256.1" x2="756.5" y2="259.8" stroke="#131722" stroke-width="1"/>
<rect x="754" y="256.65" width="5" height="1.5" fill="#f23645"/>
<line x1="763.5" y1="256.1" x2="763.5" y2="261.6" stroke="#131722" stroke-width="1"/>
<rect x="761" y="258.3" width="5" height="2.4" fill="#f23645"/>
<line x1="771.5" y1="258.3" x2="771.5" y2="260.7" stroke="#131722" stroke-width="1"/>
<rect x="769.5" y="258.8" width="4" height="1.4" fill="#2a2222" stroke="#1fc0d8" stroke-width="1"/>
<line x1="778.5" y1="256.9" x2="778.5" y2="260.7" stroke="#131722" stroke-width="1"/>
<rect x="776" y="257.65" width="5" height="1.5" fill="#f23645"/>
<line x1="786.5" y1="259.2" x2="786.5" y2="266.7" stroke="#131722" stroke-width="1"/>
<rect x="784" y="259.2" width="5" height="7.5" fill="#f23645"/>
<line x1="793.5" y1="266.3" x2="793.5" y2="268.8" stroke="#131722" stroke-width="1"/>
<rect x="791" y="265.55" width="5" height="1.5" fill="#f23645"/>
<line x1="801.5" y1="258.3" x2="801.5" y2="270.7" stroke="#131722" stroke-width="1"/>
<rect x="799" y="266.5" width="5" height="3.3" fill="#f23645"/>
<line x1="808.5" y1="267" x2="808.5" y2="270.7" stroke="#131722" stroke-width="1"/>
<rect x="806.5" y="267.5" width="4" height="1.8" fill="#2a2222" stroke="#1fc0d8" stroke-width="1"/>
<line x1="816.5" y1="261.1" x2="816.5" y2="268.8" stroke="#131722" stroke-width="1"/>
<rect x="814" y="266.55" width="5" height="1.5" fill="#1fc0d8"/>
<line x1="823.5" y1="262.1" x2="823.5" y2="267.6" stroke="#131722" stroke-width="1"/>
<rect x="821.5" y="263.7" width="4" height="3.4" fill="#2a2222" stroke="#1fc0d8" stroke-width="1"/>
<line x1="831.5" y1="257.3" x2="831.5" y2="263.4" stroke="#131722" stroke-width="1"/>
<rect x="829.5" y="258.8" width="4" height="4.1" fill="#2a2222" stroke="#1fc0d8" stroke-width="1"/>
<line x1="838.5" y1="252.3" x2="838.5" y2="259.8" stroke="#131722" stroke-width="1"/>
<rect x="836.5" y="254.7" width="4" height="3.6" fill="#2a2222" stroke="#1fc0d8" stroke-width="1"/>
<line x1="846.5" y1="254.2" x2="846.5" y2="262.9" stroke="#131722" stroke-width="1"/>
<rect x="844" y="254.2" width="5" height="8.7" fill="#f23645"/>
<line x1="853.5" y1="259" x2="853.5" y2="265.5" stroke="#131722" stroke-width="1"/>
<rect x="851" y="261.55" width="5" height="1.5" fill="#f23645"/>
<line x1="861.5" y1="259.2" x2="861.5" y2="264.9" stroke="#131722" stroke-width="1"/>
<rect x="859.5" y="260.7" width="4" height="2.3" fill="#2a2222" stroke="#1fc0d8" stroke-width="1"/>
<line x1="868.5" y1="259.2" x2="868.5" y2="262.9" stroke="#131722" stroke-width="1"/>
<rect x="866" y="260.1" width="5" height="2.8" fill="#f23645"/>
<line x1="876.5" y1="261.1" x2="876.5" y2="264.9" stroke="#131722" stroke-width="1"/>
<rect x="874" y="261.45" width="5" height="1.5" fill="#1fc0d8"/>
<line x1="883.5" y1="257.2" x2="883.5" y2="262.6" stroke="#131722" stroke-width="1"/>
<rect x="881.5" y="260.6" width="4" height="1.5" fill="#2a2222" stroke="#1fc0d8" stroke-width="1"/>
<line x1="891.5" y1="251.1" x2="891.5" y2="260.6" stroke="#131722" stroke-width="1"/>
<rect x="889.5" y="253.7" width="4" height="6.4" fill="#2a2222" stroke="#1fc0d8" stroke-width="1"/>
<line x1="898.5" y1="246.1" x2="898.5" y2="253.4" stroke="#131722" stroke-width="1"/>
<rect x="896.5" y="248.8" width="4" height="4.1" fill="#2a2222" stroke="#1fc0d8" stroke-width="1"/>
<line x1="906.5" y1="247" x2="906.5" y2="251.6" stroke="#131722" stroke-width="1"/>
<rect x="904" y="248.3" width="5" height="3.3" fill="#f23645"/>
<line x1="913.5" y1="249.2" x2="913.5" y2="251.6" stroke="#131722" stroke-width="1"/>
<rect x="911.5" y="249.7" width="4" height="1.4" fill="#2a2222" stroke="#1fc0d8" stroke-width="1"/>
<line x1="921.5" y1="249.3" x2="921.5" y2="252.6" stroke="#131722" stroke-width="1"/>
<rect x="919" y="248.55" width="5" height="1.5" fill="#f23645"/>
<line x1="928.5" y1="240.1" x2="928.5" y2="250.6" stroke="#131722" stroke-width="1"/>
<rect x="926.5" y="241.6" width="4" height="8.5" fill="#2a2222" stroke="#1fc0d8" stroke-width="1"/>
<line x1="936.5" y1="239" x2="936.5" y2="246.7" stroke="#131722" stroke-width="1"/>
<rect x="934" y="241.1" width="5" height="1.8" fill="#f23645"/>
<line x1="943.5" y1="232.1" x2="943.5" y2="244.7" stroke="#131722" stroke-width="1"/>
<rect x="941.5" y="234.7" width="4" height="7.5" fill="#2a2222" stroke="#1fc0d8" stroke-width="1"/>
<line x1="951.5" y1="232.1" x2="951.5" y2="237.8" stroke="#131722" stroke-width="1"/>
<rect x="949" y="234.2" width="5" height="1.5" fill="#f23645"/>
<line x1="958.5" y1="233.2" x2="958.5" y2="240.7" stroke="#131722" stroke-width="1"/>
<rect x="956" y="235.2" width="5" height="2.6" fill="#f23645"/>
<line x1="966.5" y1="231.1" x2="966.5" y2="237.7" stroke="#131722" stroke-width="1"/>
<rect x="964.5" y="232.6" width="4" height="4.6" fill="#2a2222" stroke="#1fc0d8" stroke-width="1"/>
<line x1="973.5" y1="231.1" x2="973.5" y2="241.9" stroke="#131722" stroke-width="1"/>
<rect x="971" y="232.2" width="5" height="9.7" fill="#f23645"/>
<line x1="981.5" y1="240.2" x2="981.5" y2="248.8" stroke="#131722" stroke-width="1"/>
<rect x="979" y="241.1" width="5" height="4.6" fill="#f23645"/>
<line x1="988.5" y1="244.2" x2="988.5" y2="251.7" stroke="#131722" stroke-width="1"/>
<rect x="986" y="245.1" width="5" height="6.6" fill="#f23645"/>
<line x1="996.5" y1="247.1" x2="996.5" y2="251.7" stroke="#131722" stroke-width="1"/>
<rect x="994.5" y="248.7" width="4" height="2.5" fill="#2a2222" stroke="#1fc0d8" stroke-width="1"/>
<line x1="1003.5" y1="247.1" x2="1003.5" y2="250.7" stroke="#131722" stroke-width="1"/>
<rect x="1001" y="248" width="5" height="2.7" fill="#f23645"/>
<line x1="1011.5" y1="247.1" x2="1011.5" y2="251.7" stroke="#131722" stroke-width="1"/>
<rect x="1009" y="249.55" width="5" height="1.5" fill="#f23645"/>
<line x1="1018.5" y1="248.2" x2="1018.5" y2="253.8" stroke="#131722" stroke-width="1"/>
<rect x="1016" y="250.55" width="5" height="1.5" fill="#f23645"/>
<line x1="1026.5" y1="243.3" x2="1026.5" y2="252.6" stroke="#131722" stroke-width="1"/>
<rect x="1024" y="250.55" width="5" height="1.5" fill="#f23645"/>
<line x1="1033.5" y1="249.2" x2="1033.5" y2="252.6" stroke="#131722" stroke-width="1"/>
<rect x="1031.5" y="250.7" width="4" height="1.4" fill="#2a2222" stroke="#1fc0d8" stroke-width="1"/>
<line x1="1041.5" y1="241.1" x2="1041.5" y2="250.5" stroke="#131722" stroke-width="1"/>
<rect x="1039.5" y="244.7" width="4" height="5.3" fill="#2a2222" stroke="#1fc0d8" stroke-width="1"/>
<line x1="1048.5" y1="242" x2="1048.5" y2="246.6" stroke="#131722" stroke-width="1"/>
<rect x="1046" y="244.2" width="5" height="2.4" fill="#f23645"/>
<line x1="1056.5" y1="245.1" x2="1056.5" y2="249.7" stroke="#131722" stroke-width="1"/>
<rect x="1054" y="246.1" width="5" height="3.6" fill="#f23645"/>
<line x1="1063.5" y1="247.1" x2="1063.5" y2="250.7" stroke="#131722" stroke-width="1"/>
<rect x="1061" y="248.65" width="5" height="1.5" fill="#f23645"/>
<line x1="1071.5" y1="246.1" x2="1071.5" y2="252.6" stroke="#131722" stroke-width="1"/>
<rect x="1069" y="248.65" width="5" height="1.5" fill="#1fc0d8"/>
<line x1="1078.5" y1="244.2" x2="1078.5" y2="252.6" stroke="#131722" stroke-width="1"/>
<rect x="1076" y="248.65" width="5" height="1.5" fill="#f23645"/>
<line x1="1086.5" y1="248.2" x2="1086.5" y2="250.3" stroke="#131722" stroke-width="1"/>
<rect x="1084" y="249.55" width="5" height="1.5" fill="#f23645"/>
<line x1="1093.5" y1="248" x2="1093.5" y2="251.9" stroke="#131722" stroke-width="1"/>
<rect x="1091" y="248.8" width="5" height="1.5" fill="#1fc0d8"/>
<line x1="1101.5" y1="247.3" x2="1101.5" y2="250.7" stroke="#131722" stroke-width="1"/>
<rect x="1099.5" y="248.5" width="4" height="1" fill="#2a2222" stroke="#1fc0d8" stroke-width="1"/>
<line x1="1108.5" y1="245.1" x2="1108.5" y2="251.9" stroke="#131722" stroke-width="1"/>
<rect x="1106" y="248" width="5" height="3.9" fill="#f23645"/>
<line x1="1116.5" y1="248" x2="1116.5" y2="254.8" stroke="#131722" stroke-width="1"/>
<rect x="1114" y="250.75" width="5" height="1.5" fill="#1fc0d8"/>
<line x1="1123.5" y1="251.1" x2="1123.5" y2="259.9" stroke="#131722" stroke-width="1"/>
<rect x="1121" y="251.1" width="5" height="7.7" fill="#f23645"/>
<line x1="1131.5" y1="257.1" x2="1131.5" y2="259.9" stroke="#131722" stroke-width="1"/>
<rect x="1129" y="257.65" width="5" height="1.5" fill="#f23645"/>
<line x1="1138.5" y1="256.1" x2="1138.5" y2="258.8" stroke="#131722" stroke-width="1"/>
<rect x="1136" y="257.3" width="5" height="1.5" fill="#1fc0d8"/>
<line x1="1146.5" y1="256.1" x2="1146.5" y2="258.8" stroke="#131722" stroke-width="1"/>
<rect x="1144" y="256.65" width="5" height="1.5" fill="#f23645"/>
<line x1="1153.5" y1="258" x2="1153.5" y2="265.7" stroke="#131722" stroke-width="1"/>
<rect x="1151" y="258" width="5" height="4.8" fill="#f23645"/>
<line x1="1161.5" y1="261.1" x2="1161.5" y2="264.9" stroke="#131722" stroke-width="1"/>
<rect x="1159" y="262" width="5" height="2.9" fill="#f23645"/>
<line x1="1168.5" y1="261.1" x2="1168.5" y2="264.9" stroke="#131722" stroke-width="1"/>
<rect x="1166.5" y="262.5" width="4" height="1.9" fill="#2a2222" stroke="#1fc0d8" stroke-width="1"/>
<line x1="1176.5" y1="259.2" x2="1176.5" y2="262.6" stroke="#131722" stroke-width="1"/>
<rect x="1174.5" y="259.7" width="4" height="2.4" fill="#2a2222" stroke="#1fc0d8" stroke-width="1"/>
<line x1="1183.5" y1="255.1" x2="1183.5" y2="259.7" stroke="#131722" stroke-width="1"/>
<rect x="1181.5" y="257.6" width="4" height="1.6" fill="#2a2222" stroke="#1fc0d8" stroke-width="1"/>
<line x1="1191.5" y1="255.1" x2="1191.5" y2="258.8" stroke="#131722" stroke-width="1"/>
<rect x="1189" y="255.55" width="5" height="1.5" fill="#1fc0d8"/>
<line x1="1198.5" y1="252" x2="1198.5" y2="256.9" stroke="#131722" stroke-width="1"/>
<rect x="1196" y="255" width="5" height="1.9" fill="#1fc0d8"/>
<line x1="1206.5" y1="250.2" x2="1206.5" y2="261.6" stroke="#131722" stroke-width="1"/>
<rect x="1204.5" y="250.7" width="4" height="4.3" fill="#2a2222" stroke="#1fc0d8" stroke-width="1"/>
<line x1="1213.5" y1="247" x2="1213.5" y2="256" stroke="#131722" stroke-width="1"/>
<rect x="1211" y="250.1" width="5" height="3.7" fill="#f23645"/>
<line x1="1221.5" y1="252.1" x2="1221.5" y2="253.4" stroke="#131722" stroke-width="1"/>
<rect x="1219" y="252.65" width="5" height="1.5" fill="#f23645"/>
<line x1="1228.5" y1="253" x2="1228.5" y2="254.7" stroke="#131722" stroke-width="1"/>
<rect x="1226" y="253" width="5" height="1.7" fill="#f23645"/>
<line x1="1236.5" y1="252.1" x2="1236.5" y2="254.4" stroke="#131722" stroke-width="1"/>
<rect x="1234" y="253.65" width="5" height="1.5" fill="#1fc0d8"/>
<line x1="1243.5" y1="250.1" x2="1243.5" y2="254.7" stroke="#131722" stroke-width="1"/>
<rect x="1241.5" y="251.6" width="4" height="2.6" fill="#2a2222" stroke="#1fc0d8" stroke-width="1"/>
<line x1="1251.5" y1="249" x2="1251.5" y2="252.9" stroke="#131722" stroke-width="1"/>
<rect x="1249" y="250.65" width="5" height="1.5" fill="#f23645"/>
<line x1="1258.5" y1="251.1" x2="1258.5" y2="255" stroke="#131722" stroke-width="1"/>
<rect x="1256" y="251.65" width="5" height="1.5" fill="#f23645"/>
<line x1="1266.5" y1="253" x2="1266.5" y2="254.7" stroke="#131722" stroke-width="1"/>
<rect x="1264" y="253" width="5" height="1.7" fill="#f23645"/>
<line x1="1273.5" y1="254.2" x2="1273.5" y2="257.8" stroke="#131722" stroke-width="1"/>
<rect x="1271" y="254.2" width="5" height="3.6" fill="#f23645"/>
<line x1="1281.5" y1="256.1" x2="1281.5" y2="257.3" stroke="#131722" stroke-width="1"/>
<rect x="1279" y="256.55" width="5" height="1.5" fill="#f23645"/>
<line x1="1288.5" y1="256.1" x2="1288.5" y2="258.8" stroke="#131722" stroke-width="1"/>
<rect x="1286" y="256.55" width="5" height="1.5" fill="#1fc0d8"/>
<line x1="1296.5" y1="257" x2="1296.5" y2="261.9" stroke="#131722" stroke-width="1"/>
<rect x="1294" y="257" width="5" height="3.9" fill="#f23645"/>
<line x1="1303.5" y1="259" x2="1303.5" y2="261.6" stroke="#131722" stroke-width="1"/>
<rect x="1301" y="260.1" width="5" height="1.5" fill="#f23645"/>
<line x1="1311.5" y1="259" x2="1311.5" y2="261.6" stroke="#131722" stroke-width="1"/>
<rect x="1309" y="260.1" width="5" height="1.5" fill="#1fc0d8"/>
<line x1="1318.5" y1="259" x2="1318.5" y2="274.9" stroke="#131722" stroke-width="1"/>
<rect x="1316" y="260" width="5" height="11.9" fill="#f23645"/>
<line x1="1326.5" y1="267.3" x2="1326.5" y2="273" stroke="#131722" stroke-width="1"/>
<rect x="1324.5" y="267.8" width="4" height="3.4" fill="#2a2222" stroke="#1fc0d8" stroke-width="1"/>
<line x1="1333.5" y1="263" x2="1333.5" y2="268.8" stroke="#131722" stroke-width="1"/>
<rect x="1331.5" y="265.8" width="4" height="1.3" fill="#2a2222" stroke="#1fc0d8" stroke-width="1"/>
<line x1="1341.5" y1="262.1" x2="1341.5" y2="269.8" stroke="#131722" stroke-width="1"/>
<rect x="1339" y="265" width="5" height="4.8" fill="#f23645"/>
<line x1="1348.5" y1="268.3" x2="1348.5" y2="272.6" stroke="#131722" stroke-width="1"/>
<rect x="1346" y="269" width="5" height="3.6" fill="#f23645"/>
<line x1="1356.5" y1="268.3" x2="1356.5" y2="272.6" stroke="#131722" stroke-width="1"/>
<rect x="1354.5" y="270.6" width="4" height="1.5" fill="#2a2222" stroke="#1fc0d8" stroke-width="1"/>
<line x1="1363.5" y1="268.3" x2="1363.5" y2="276.7" stroke="#131722" stroke-width="1"/>
<rect x="1361" y="270.1" width="5" height="5.6" fill="#f23645"/>
<line x1="1371.5" y1="273.8" x2="1371.5" y2="276.9" stroke="#131722" stroke-width="1"/>
<rect x="1369" y="274.75" width="5" height="1.5" fill="#f23645"/>
<line x1="1378.5" y1="273.8" x2="1378.5" y2="276.9" stroke="#131722" stroke-width="1"/>
<rect x="1376" y="274.75" width="5" height="1.5" fill="#1fc0d8"/>
<line x1="1386.5" y1="272.1" x2="1386.5" y2="278.8" stroke="#131722" stroke-width="1"/>
<rect x="1384.5" y="273.7" width="4" height="1.5" fill="#2a2222" stroke="#1fc0d8" stroke-width="1"/>
<line x1="1393.5" y1="271.1" x2="1393.5" y2="275" stroke="#131722" stroke-width="1"/>
<rect x="1391" y="272.65" width="5" height="1.5" fill="#1fc0d8"/>
</g>
<g>
<rect x="14" y="432" width="2.5" height="7.5" fill="#b2dfdb"/>
<rect x="18" y="433" width="6" height="6.5" fill="#b2dfdb"/>
<rect x="25.5" y="433" width="6" height="6.5" fill="#b2dfdb"/>
<rect x="33" y="435.2" width="6" height="4.3" fill="#b2dfdb"/>
<rect x="40.5" y="439.5" width="6" height="5.4" fill="#ff5252"/>
<rect x="48" y="439.5" width="6" height="8.2" fill="#ff5252"/>
<rect x="55.5" y="439.5" width="6" height="6.4" fill="#ffcdd2"/>
<rect x="63" y="439.5" width="6" height="2.2" fill="#ffcdd2"/>
<rect x="70.5" y="438.7" width="6" height="0.8" fill="#26a69a"/>
<rect x="78" y="437.1" width="6" height="2.4" fill="#26a69a"/>
<rect x="85.5" y="435.2" width="6" height="4.3" fill="#26a69a"/>
<rect x="93" y="434.2" width="6" height="5.3" fill="#26a69a"/>
<rect x="100.5" y="432" width="6" height="7.5" fill="#26a69a"/>
<rect x="108" y="432" width="6" height="7.5" fill="#b2dfdb"/>
<rect x="115.5" y="432" width="6" height="7.5" fill="#b2dfdb"/>
<rect x="123" y="431.2" width="6" height="8.3" fill="#26a69a"/>
<rect x="130.5" y="432" width="6" height="7.5" fill="#b2dfdb"/>
<rect x="138" y="432" width="6" height="7.5" fill="#26a69a"/>
<rect x="145.5" y="433" width="6" height="6.5" fill="#b2dfdb"/>
<rect x="153" y="434.2" width="6" height="5.3" fill="#b2dfdb"/>
<rect x="160.5" y="433" width="6" height="6.5" fill="#26a69a"/>
<rect x="168" y="436.4" width="6" height="3.1" fill="#b2dfdb"/>
<rect x="175.5" y="438.3" width="6" height="1.2" fill="#b2dfdb"/>
<rect x="183" y="439.1" width="6" height="0.5" fill="#b2dfdb"/>
<rect x="190.5" y="439.5" width="6" height="5.6" fill="#ff5252"/>
<rect x="198" y="439.5" width="6" height="7.3" fill="#ff5252"/>
<rect x="205.5" y="439.5" width="6" height="9.6" fill="#ff5252"/>
<rect x="213" y="439.5" width="6" height="16.4" fill="#ff5252"/>
<rect x="220.5" y="439.5" width="6" height="18.5" fill="#ff5252"/>
<rect x="228" y="439.5" width="6" height="17.1" fill="#ffcdd2"/>
<rect x="235.5" y="439.5" width="6" height="18.5" fill="#ff5252"/>
<rect x="243" y="439.5" width="6" height="17.1" fill="#ffcdd2"/>
<rect x="250.5" y="439.5" width="6" height="14.7" fill="#ffcdd2"/>
<rect x="258" y="439.5" width="6" height="13.3" fill="#ffcdd2"/>
<rect x="265.5" y="439.5" width="6" height="9.6" fill="#ffcdd2"/>
<rect x="273" y="439.5" width="6" height="8.2" fill="#ffcdd2"/>
<rect x="280.5" y="439.5" width="6" height="9.6" fill="#ff5252"/>
<rect x="288" y="439.5" width="6" height="9.6" fill="#ff5252"/>
<rect x="295.5" y="439.5" width="6" height="10.4" fill="#ff5252"/>
<rect x="303" y="439.5" width="6" height="16.4" fill="#ff5252"/>
<rect x="310.5" y="439.5" width="6" height="24.5" fill="#ff5252"/>
<rect x="318" y="439.5" width="6" height="22.2" fill="#ffcdd2"/>
<rect x="325.5" y="439.5" width="6" height="19.3" fill="#ffcdd2"/>
<rect x="333" y="439.5" width="6" height="16.4" fill="#ffcdd2"/>
<rect x="340.5" y="439.5" width="6" height="12.5" fill="#ffcdd2"/>
<rect x="348" y="439.5" width="6" height="13.3" fill="#ff5252"/>
<rect x="355.5" y="439.5" width="6" height="11.3" fill="#ffcdd2"/>
<rect x="363" y="439.5" width="6" height="10.2" fill="#ffcdd2"/>
<rect x="370.5" y="439.5" width="6" height="6.5" fill="#ffcdd2"/>
<rect x="378" y="439.5" width="6" height="3.4" fill="#ffcdd2"/>
<rect x="385.5" y="438.3" width="6" height="1.2" fill="#26a69a"/>
<rect x="393" y="430.2" width="6" height="9.3" fill="#26a69a"/>
<rect x="400.5" y="426.3" width="6" height="13.2" fill="#26a69a"/>
<rect x="408" y="423" width="6" height="16.5" fill="#26a69a"/>
<rect x="415.5" y="421.1" width="6" height="18.4" fill="#26a69a"/>
<rect x="423" y="420.3" width="6" height="19.2" fill="#26a69a"/>
<rect x="430.5" y="421.1" width="6" height="18.4" fill="#b2dfdb"/>
<rect x="438" y="419.1" width="6" height="20.4" fill="#26a69a"/>
<rect x="445.5" y="422.3" width="6" height="17.2" fill="#b2dfdb"/>
<rect x="453" y="425.1" width="6" height="14.4" fill="#b2dfdb"/>
<rect x="460.5" y="425.1" width="6" height="14.4" fill="#b2dfdb"/>
<rect x="468" y="425.1" width="6" height="14.4" fill="#b2dfdb"/>
<rect x="475.5" y="426.2" width="6" height="13.3" fill="#b2dfdb"/>
<rect x="483" y="431.9" width="6" height="7.6" fill="#b2dfdb"/>
<rect x="490.5" y="431.9" width="6" height="7.6" fill="#b2dfdb"/>
<rect x="498" y="435" width="6" height="4.5" fill="#b2dfdb"/>
<rect x="505.5" y="438" width="6" height="1.5" fill="#b2dfdb"/>
<rect x="513" y="439.5" width="6" height="3.4" fill="#ff5252"/>
<rect x="520.5" y="439.5" width="6" height="8.3" fill="#ff5252"/>
<rect x="528" y="439.5" width="6" height="15.2" fill="#ff5252"/>
<rect x="535.5" y="439.5" width="6" height="23.1" fill="#ff5252"/>
<rect x="543" y="439.5" width="6" height="30.2" fill="#ff5252"/>
<rect x="550.5" y="439.5" width="6" height="31.3" fill="#ff5252"/>
<rect x="558" y="439.5" width="6" height="27.1" fill="#ffcdd2"/>
<rect x="565.5" y="439.5" width="6" height="18.4" fill="#ffcdd2"/>
<rect x="573" y="439.5" width="6" height="8.3" fill="#ffcdd2"/>
<rect x="580.5" y="436.1" width="6" height="3.4" fill="#26a69a"/>
<rect x="588" y="427.9" width="6" height="11.6" fill="#26a69a"/>
<rect x="595.5" y="423.2" width="6" height="16.3" fill="#26a69a"/>
<rect x="603" y="425" width="6" height="14.5" fill="#b2dfdb"/>
<rect x="610.5" y="425" width="6" height="14.5" fill="#b2dfdb"/>
<rect x="618" y="423.2" width="6" height="16.3" fill="#26a69a"/>
<rect x="625.5" y="420" width="6" height="19.5" fill="#26a69a"/>
<rect x="633" y="420.2" width="6" height="19.3" fill="#26a69a"/>
<rect x="640.5" y="421.2" width="6" height="18.3" fill="#b2dfdb"/>
<rect x="648" y="422.2" width="6" height="17.3" fill="#b2dfdb"/>
<rect x="655.5" y="422.2" width="6" height="17.3" fill="#26a69a"/>
<rect x="663" y="424.2" width="6" height="15.3" fill="#b2dfdb"/>
<rect x="670.5" y="425.2" width="6" height="14.3" fill="#b2dfdb"/>
<rect x="678" y="428.1" width="6" height="11.4" fill="#b2dfdb"/>
<rect x="685.5" y="428.1" width="6" height="11.4" fill="#b2dfdb"/>
<rect x="693" y="431.1" width="6" height="8.4" fill="#b2dfdb"/>
<rect x="700.5" y="436.2" width="6" height="3.3" fill="#b2dfdb"/>
<rect x="708" y="437" width="6" height="2.5" fill="#b2dfdb"/>
<rect x="715.5" y="436.2" width="6" height="3.3" fill="#26a69a"/>
<rect x="723" y="436.2" width="6" height="3.3" fill="#26a69a"/>
<rect x="730.5" y="437" width="6" height="2.5" fill="#b2dfdb"/>
<rect x="738" y="438.1" width="6" height="1.4" fill="#b2dfdb"/>
<rect x="745.5" y="439.5" width="6" height="0.5" fill="#ff5252"/>
<rect x="753" y="439.5" width="6" height="1.3" fill="#ff5252"/>
<rect x="760.5" y="439.5" width="6" height="2.3" fill="#ff5252"/>
<rect x="768" y="439.5" width="6" height="2" fill="#ffcdd2"/>
<rect x="775.5" y="439.5" width="6" height="1.3" fill="#ffcdd2"/>
<rect x="783" y="439.5" width="6" height="4.3" fill="#ff5252"/>
<rect x="790.5" y="439.5" width="6" height="5.1" fill="#ff5252"/>
<rect x="798" y="439.5" width="6" height="6.9" fill="#ff5252"/>
<rect x="805.5" y="439.5" width="6" height="6" fill="#ffcdd2"/>
<rect x="813" y="439.5" width="6" height="3.9" fill="#ffcdd2"/>
<rect x="820.5" y="439.5" width="6" height="1.2" fill="#ffcdd2"/>
<rect x="828" y="435.2" width="6" height="4.3" fill="#26a69a"/>
<rect x="835.5" y="431.1" width="6" height="8.4" fill="#26a69a"/>
<rect x="843" y="431.1" width="6" height="8.4" fill="#b2dfdb"/>
<rect x="850.5" y="432.2" width="6" height="7.3" fill="#b2dfdb"/>
<rect x="858" y="431.1" width="6" height="8.4" fill="#26a69a"/>
<rect x="865.5" y="432.2" width="6" height="7.3" fill="#b2dfdb"/>
<rect x="873" y="432.2" width="6" height="7.3" fill="#b2dfdb"/>
<rect x="880.5" y="432.2" width="6" height="7.3" fill="#26a69a"/>
<rect x="888" y="429" width="6" height="10.5" fill="#26a69a"/>
<rect x="895.5" y="425.3" width="6" height="14.2" fill="#26a69a"/>
<rect x="903" y="424" width="6" height="15.5" fill="#26a69a"/>
<rect x="910.5" y="424" width="6" height="15.5" fill="#26a69a"/>
<rect x="918" y="424" width="6" height="15.5" fill="#b2dfdb"/>
<rect x="925.5" y="421.2" width="6" height="18.3" fill="#26a69a"/>
<rect x="933" y="421.2" width="6" height="18.3" fill="#26a69a"/>
<rect x="940.5" y="418.1" width="6" height="21.4" fill="#26a69a"/>
<rect x="948" y="418.1" width="6" height="21.4" fill="#26a69a"/>
<rect x="955.5" y="419.9" width="6" height="19.6" fill="#b2dfdb"/>
<rect x="963" y="419.9" width="6" height="19.6" fill="#b2dfdb"/>
<rect x="970.5" y="424.9" width="6" height="14.6" fill="#b2dfdb"/>
<rect x="978" y="430.8" width="6" height="8.7" fill="#b2dfdb"/>
<rect x="985.5" y="438" width="6" height="1.5" fill="#b2dfdb"/>
<rect x="993" y="439.5" width="6" height="3.2" fill="#ff5252"/>
<rect x="1000.5" y="439.5" width="6" height="6" fill="#ff5252"/>
<rect x="1008" y="439.5" width="6" height="8" fill="#ff5252"/>
<rect x="1015.5" y="439.5" width="6" height="9.1" fill="#ff5252"/>
<rect x="1023" y="439.5" width="6" height="10.1" fill="#ff5252"/>
<rect x="1030.5" y="439.5" width="6" height="9.1" fill="#ffcdd2"/>
<rect x="1038" y="439.5" width="6" height="6" fill="#ffcdd2"/>
<rect x="1045.5" y="439.5" width="6" height="5" fill="#ffcdd2"/>
<rect x="1053" y="439.5" width="6" height="5" fill="#ff5252"/>
<rect x="1060.5" y="439.5" width="6" height="5" fill="#ff5252"/>
<rect x="1068" y="439.5" width="6" height="5" fill="#ffcdd2"/>
<rect x="1075.5" y="439.5" width="6" height="5" fill="#ffcdd2"/>
<rect x="1083" y="439.5" width="6" height="5" fill="#ffcdd2"/>
<rect x="1090.5" y="439.5" width="6" height="3.9" fill="#ffcdd2"/>
<rect x="1098" y="439.5" width="6" height="3" fill="#ffcdd2"/>
<rect x="1105.5" y="439.5" width="6" height="4.2" fill="#ff5252"/>
<rect x="1113" y="439.5" width="6" height="4.1" fill="#ff5252"/>
<rect x="1120.5" y="439.5" width="6" height="7.1" fill="#ff5252"/>
<rect x="1128" y="439.5" width="6" height="9" fill="#ff5252"/>
<rect x="1135.5" y="439.5" width="6" height="9" fill="#ff5252"/>
<rect x="1143" y="439.5" width="6" height="9" fill="#ffcdd2"/>
<rect x="1150.5" y="439.5" width="6" height="10.1" fill="#ff5252"/>
<rect x="1158" y="439.5" width="6" height="10.9" fill="#ff5252"/>
<rect x="1165.5" y="439.5" width="6" height="10.1" fill="#ffcdd2"/>
<rect x="1173" y="439.5" width="6" height="8.2" fill="#ffcdd2"/>
<rect x="1180.5" y="439.5" width="6" height="5.2" fill="#ffcdd2"/>
<rect x="1188" y="439.5" width="6" height="2.2" fill="#ffcdd2"/>
<rect x="1195.5" y="439.4" width="6" height="0.5" fill="#26a69a"/>
<rect x="1203" y="435.2" width="6" height="4.3" fill="#26a69a"/>
<rect x="1210.5" y="434" width="6" height="5.5" fill="#26a69a"/>
<rect x="1218" y="433.1" width="6" height="6.4" fill="#26a69a"/>
<rect x="1225.5" y="434" width="6" height="5.5" fill="#b2dfdb"/>
<rect x="1233" y="434" width="6" height="5.5" fill="#b2dfdb"/>
<rect x="1240.5" y="433.1" width="6" height="6.4" fill="#26a69a"/>
<rect x="1248" y="433.1" width="6" height="6.4" fill="#b2dfdb"/>
<rect x="1255.5" y="434" width="6" height="5.5" fill="#b2dfdb"/>
<rect x="1263" y="435.2" width="6" height="4.3" fill="#b2dfdb"/>
<rect x="1270.5" y="437.1" width="6" height="2.4" fill="#b2dfdb"/>
<rect x="1278" y="439.1" width="6" height="0.5" fill="#b2dfdb"/>
<rect x="1285.5" y="439.5" width="6" height="1" fill="#ff5252"/>
<rect x="1293" y="439.5" width="6" height="3.3" fill="#ff5252"/>
<rect x="1300.5" y="439.5" width="6" height="4.1" fill="#ff5252"/>
<rect x="1308" y="439.5" width="6" height="4.1" fill="#ff5252"/>
<rect x="1315.5" y="439.5" width="6" height="9" fill="#ff5252"/>
<rect x="1323" y="439.5" width="6" height="10.1" fill="#ff5252"/>
<rect x="1330.5" y="439.5" width="6" height="9.3" fill="#ffcdd2"/>
<rect x="1338" y="439.5" width="6" height="9.3" fill="#ff5252"/>
<rect x="1345.5" y="439.5" width="6" height="11.3" fill="#ff5252"/>
<rect x="1353" y="439.5" width="6" height="10.1" fill="#ffcdd2"/>
<rect x="1360.5" y="439.5" width="6" height="11.3" fill="#ff5252"/>
<rect x="1368" y="439.5" width="6" height="11.3" fill="#ffcdd2"/>
<rect x="1375.5" y="439.5" width="6" height="10.1" fill="#ffcdd2"/>
<rect x="1383" y="439.5" width="6" height="8.2" fill="#ffcdd2"/>
<rect x="1390.5" y="439.5" width="6" height="5.2" fill="#ffcdd2"/>
</g>
<line x1="14" y1="439.5" x2="1471.5" y2="439.5" stroke="#787b86" stroke-opacity="0.6" stroke-width="1" stroke-dasharray="5 6" stroke-dashoffset="1"/>
<g clip-path="url(#plot)">
<polyline points="13.5,480.3 21,479.3 28.5,477.7 36,479 43.5,489.6 51,494.4 58.5,493.3 66,490.1 73.5,488.6 81,485.6 88.5,481.9 96,478.7 103.5,475.8 111,474.3 118.5,473.3 126,469.7 133.5,469.2 141,466.6 148.5,466.5 156,466.3 163.5,463.4 171,466.3 178.5,467 186,467.7 193.5,474.2 201,477.7 208.5,482.8 216,493.1 223.5,499.9 231,502.5 238.5,508.5 246,511.1 253.5,511.1 261,513.6 268.5,512.4 276,513.6 283.5,517.1 291,521 298.5,522.2 306,530.8 313.5,544.5 321,549.1 328.5,550.5 336,551.3 343.5,550.5 351,555.3 358.5,556 366,556.5 373.5,554.2 381,551.8 388.5,547 396,536.8 403.5,528.2 411,521 418.5,515.9 426,510.2 433.5,506.8 441,500.5 448.5,497.7 456,497 463.5,493.1 471,489.7 478.5,489.2 486,492.3 493.5,490.7 501,492.2 508.5,494.4 516,499.5 523.5,506.8 531,520.5 538.5,534.2 546,545.5 553.5,554.3 561,556.1 568.5,552.5 576,545.2 583.5,530.5 591,521.5 598.5,512.9 606,510.2 613.5,507 621,501 628.5,494.2 636,487.8 643.5,485.1 651,481.9 658.5,477.5 666,475 673.5,472.3 681,472.6 688.5,470.5 696,471 703.5,474.7 711,475.1 718.5,473.3 726,472.3 733.5,472.6 741,474.2 748.5,475.1 756,476.4 763.5,478.1 771,477.8 778.5,477.8 786,481.5 793.5,484 801,486.6 808.5,487 816,486.6 823.5,484.2 831,477.7 838.5,470.8 846,469.5 853.5,468.1 861,465.6 868.5,464.2 876,463.3 883.5,460.5 891,455.8 898.5,447.5 906,442.7 913.5,437.9 921,435.2 928.5,426.3 936,421.5 943.5,414 951,409.2 958.5,405.3 966,400.7 973.5,402.3 981,407.1 988.5,414 996,418.1 1003.5,422.6 1011,427 1018.5,430.4 1026,433.2 1033.5,434.1 1041,432.5 1048.5,432.2 1056,433.8 1063.5,435.2 1071,436.3 1078.5,437.3 1086,438.2 1093.5,438.2 1101,437.9 1108.5,439.2 1116,440.2 1123.5,445.1 1131,449.6 1138.5,451.9 1146,454.2 1153.5,458.2 1161,462.2 1168.5,463 1176,462.5 1183.5,460.3 1191,458 1198.5,455.9 1206,450.2 1213.5,446.8 1221,445.1 1228.5,443.9 1236,442.8 1243.5,440.5 1251,439.7 1258.5,439.7 1266,439.9 1273.5,441.3 1281,443.1 1288.5,444.7 1296,447.4 1303.5,449.3 1311,450.2 1318.5,457.1 1326,460.5 1333.5,461.4 1341,464.1 1348.5,468.2 1356,469.6 1363.5,473.6 1371,476.2 1378.5,477 1386,476.5 1393.5,475.3" fill="none" stroke="#2962ff" stroke-width="1.5" stroke-linejoin="round"/>
<polyline points="13.5,487.7 21,485.7 28.5,484.1 36,483.5 43.5,485.1 51,487 58.5,488.3 66,488.3 73.5,488.3 81,487.6 88.5,486.4 96,484.6 103.5,482.6 111,480.8 118.5,479.2 126,477.4 133.5,475.8 141,474.1 148.5,472 156,470.7 163.5,469.2 171,468.3 178.5,468 186,468.5 193.5,469.6 201,470.8 208.5,473 216,477.7 223.5,482.8 231,487.9 238.5,492.6 246,496.5 253.5,499.9 261,501 268.5,503 276,505.2 283.5,507.5 291,509.7 298.5,512 306,516.2 313.5,521.7 321,527.9 328.5,532 336,536.4 343.5,540.2 351,543.3 358.5,546.2 366,547.9 373.5,549.1 381,549.1 388.5,548.4 396,545.3 403.5,541.9 411,538.5 418.5,534.7 426,529.9 433.5,525.1 441,520.5 448.5,515.4 456,511.4 463.5,508 471,504.2 478.5,501.2 486,499.5 493.5,498 501,496.8 508.5,496.4 516,497.3 523.5,499.5 531,504.1 538.5,510.5 546,518.7 553.5,526 561,532 568.5,535.7 576,536.2 583.5,535 591,533 598.5,528.9 606,525.3 613.5,521.6 621,517.3 628.5,512.5 636,507.6 643.5,503.1 651,498.3 658.5,493.3 666,488.7 673.5,484.5 681,481 688.5,479.2 696,478.4 703.5,477.4 711,476.4 718.5,475.6 726,475.1 733.5,474.7 741,475.1 748.5,475.3 756,475.6 763.5,476 771,476.4 778.5,477 786,478.1 793.5,478.8 801,480.4 808.5,481.8 816,482.5 823.5,482.5 831,481.1 838.5,479 846,477 853.5,474.9 861,472.9 868.5,471.1 876,469.2 883.5,467 891,464 898.5,459.9 906,455.8 913.5,451.4 921,447.3 928.5,442.1 936,436.6 943.5,432.5 951,429.2 958.5,423.6 966,419.5 973.5,416 981,414.4 988.5,414.4 996,415.3 1003.5,417.1 1011,419.5 1018.5,421.8 1026,424.2 1033.5,425.9 1041,427.3 1048.5,428.4 1056,429.7 1063.5,431.1 1071,432.2 1078.5,433.2 1086,434.1 1093.5,434.9 1101,435.5 1108.5,436 1116,436.7 1123.5,439 1131,441.1 1138.5,443.1 1146,445.4 1153.5,447.9 1161,450.2 1168.5,453.1 1176,454.8 1183.5,455.9 1191,456.3 1198.5,456.1 1206,455 1213.5,453.1 1221,451.1 1228.5,449.1 1236,447.4 1243.5,445.6 1251,443.9 1258.5,443 1266,443.5 1273.5,443.1 1281,443.1 1288.5,443.6 1296,444.5 1303.5,445.4 1311,446.8 1318.5,448.8 1326,450.8 1333.5,452.7 1341,454.8 1348.5,457.6 1356,459.9 1363.5,462.5 1371,465.3 1378.5,467.6 1386,469 1393.5,470.5" fill="none" stroke="#ff6d00" stroke-width="1.5" stroke-linejoin="round"/>
</g>
<g clip-path="url(#plot)"><polygon points="13.5,708.3 13.5,708.3 21,708.3 28.5,708.3 36,708.3 37.29,708.3 43.5,735.3 51,712 52.08,708.3 58.5,708.3 66,708.3 73.5,708.3 81,708.3 88.5,708.3 96,708.3 103.5,708.3 111,708.3 118.5,708.3 126,708.3 133.5,708.3 141,708.3 148.5,708.3 156,708.3 163.5,708.3 171,708.3 178.5,708.3 186,708.3 193.5,708.3 201,708.3 203.96,708.3 208.5,712.6 216,732.5 223.5,725.6 231,708.5 238.5,720.8 246,714.7 252.58,708.3 253.5,708.3 254.32,708.3 261,715.6 264.42,708.3 268.5,708.3 276,708.3 276.59,708.3 283.5,714.2 291,720.1 298.5,725.6 306,739.3 313.5,748.9 321,717.8 328.5,717.4 336,718.4 343.5,718.8 351,730.4 358.5,721.5 366,724.2 373.5,717.8 381,719.2 387.1,708.3 388.5,708.3 396,708.3 403.5,708.3 411,708.3 418.5,708.3 426,708.3 433.5,708.3 441,708.3 448.5,708.3 456,708.3 463.5,708.3 471,708.3 478.5,708.3 486,708.3 493.5,708.3 501,708.3 508.5,708.3 516,708.3 518.07,708.3 523.5,716.7 531,728.8 538.5,735.9 546,742.5 553.5,737.9 561,719.5 565.08,708.3 568.5,708.3 576,708.3 583.5,708.3 591,708.3 598.5,708.3 606,708.3 613.5,708.3 621,708.3 628.5,708.3 636,708.3 643.5,708.3 651,708.3 658.5,708.3 666,708.3 673.5,708.3 681,708.3 688.5,708.3 696,708.3 703.5,708.3 711,708.3 718.5,708.3 726,708.3 733.5,708.3 741,708.3 748.5,708.3 756,708.3 763.5,708.3 771,708.3 778.5,708.3 786,708.3 793.5,708.3 797.63,708.3 801,710.5 802.45,708.3 808.5,708.3 816,708.3 823.5,708.3 831,708.3 838.5,708.3 846,708.3 853.5,708.3 861,708.3 868.5,708.3 876,708.3 883.5,708.3 891,708.3 898.5,708.3 906,708.3 913.5,708.3 921,708.3 928.5,708.3 936,708.3 943.5,708.3 951,708.3 958.5,708.3 966,708.3 973.5,708.3 981,708.3 988.5,708.3 996,708.3 1003.5,708.3 1011,708.3 1018.5,708.3 1026,708.3 1033.5,708.3 1041,708.3 1048.5,708.3 1056,708.3 1063.5,708.3 1071,708.3 1078.5,708.3 1086,708.3 1093.5,708.3 1101,708.3 1108.5,708.3 1116,708.3 1123.5,708.3 1131,708.3 1138.5,708.3 1146,708.3 1153.5,708.3 1161,708.3 1168.5,708.3 1176,708.3 1183.5,708.3 1191,708.3 1198.5,708.3 1206,708.3 1213.5,708.3 1221,708.3 1228.5,708.3 1236,708.3 1243.5,708.3 1251,708.3 1258.5,708.3 1266,708.3 1273.5,708.3 1281,708.3 1288.5,708.3 1296,708.3 1303.5,708.3 1311,708.3 1316.63,708.3 1318.5,718 1321.68,708.3 1326,708.3 1333.5,708.3 1341,708.3 1348.5,708.3 1356,708.3 1363.5,708.3 1371,708.3 1378.5,708.3 1386,708.3 1393.5,708.3 1393.5,708.3" fill="url(#os)"/></g>
<line x1="14" y1="593.5" x2="1471.5" y2="593.5" stroke="#787b86" stroke-opacity="1" stroke-width="1" stroke-dasharray="5 6" stroke-dashoffset="1"/>
<line x1="14" y1="651.3" x2="1471.5" y2="651.3" stroke="#787b86" stroke-opacity="0.5" stroke-width="1" stroke-dasharray="5 6" stroke-dashoffset="1"/>
<line x1="14" y1="708.3" x2="1471.5" y2="708.3" stroke="#787b86" stroke-opacity="1" stroke-width="1" stroke-dasharray="5 6" stroke-dashoffset="1"/>
<g clip-path="url(#plot)">
<polyline points="13.5,686.4 21,687.2 28.5,687.8 36,689.1 43.5,692.6 51,695 58.5,694.6 66,693.6 73.5,693 81,692.2 88.5,691.7 96,690.3 103.5,689.1 111,688.3 118.5,686.8 126,685.2 133.5,684.5 141,681.9 148.5,678.1 156,675.5 163.5,674.2 171,675 178.5,675.3 186,675.9 193.5,679 201,681.1 208.5,684.1 216,688 223.5,691.4 231,694.5 238.5,697.5 246,700.3 253.5,702.3 261,705.1 268.5,707.8 276,709.9 283.5,712.6 291,714 298.5,715.6 306,717.8 313.5,720.1 321,718.8 328.5,718.2 336,718.8 343.5,719.2 351,720.5 358.5,721.5 366,722.2 373.5,722.9 381,723.8 388.5,722.9 396,720.8 403.5,718.1 411,714 418.5,708.5 426,705.8 433.5,703.3 441,700.3 448.5,697.5 456,694.5 463.5,691 471,688 478.5,685.9 486,685.5 493.5,684.1 501,684.5 508.5,685.2 516,686.8 523.5,689 531,692.7 538.5,696.4 546,701 553.5,705.1 561,707.1 568.5,708.5 576,708.5 583.5,707.1 591,704.7 598.5,703.7 606,702.7 613.5,701.4 621,698.2 628.5,694.1 636,690 643.5,685.2 651,680.4 658.5,675.3 666,671.8 673.5,669 681,668.5 688.5,668.5 696,669.5 703.5,671.2 711,670.4 718.5,669.5 726,670.1 733.5,671.8 741,673.6 748.5,674.5 756,676.3 763.5,678.4 771,679.7 778.5,681.4 786,683.6 793.5,685.8 801,687.7 808.5,688.7 816,690.2 823.5,691.2 831,690.2 838.5,688 846,686.8 853.5,685.7 861,683.8 868.5,682 876,680.8 883.5,678.8 891,673.9 898.5,667.9 906,662.4 913.5,657.5 921,652.3 928.5,647.1 936,643.7 943.5,640.2 951,635 958.5,631 966,625.8 973.5,622.8 981,621.4 988.5,621.4 996,622.8 1003.5,625.4 1011,627.7 1018.5,629.8 1026,632.2 1033.5,634.7 1041,636.7 1048.5,640.2 1056,644.1 1063.5,647 1071,650.3 1078.5,652.5 1086,653.3 1093.5,653 1101,652.5 1108.5,652.8 1116,653.4 1123.5,655.8 1131,658.2 1138.5,660.2 1146,663.6 1153.5,667.7 1161,671.4 1168.5,673.9 1176,675 1183.5,675.5 1191,676 1198.5,676 1206,675 1213.5,673.6 1221,672.3 1228.5,669.8 1236,666.8 1243.5,663.6 1251,660.5 1258.5,656.6 1266,653.1 1273.5,651.3 1281,651.3 1288.5,652 1296,654 1303.5,657.2 1311,660.9 1318.5,665.4 1326,668.7 1333.5,670.9 1341,673.9 1348.5,678.3 1356,682.1 1363.5,686.5 1371,690.3 1378.5,692.8 1386,694.2 1393.5,695.5" fill="none" stroke="#fdd835" stroke-width="1.5" stroke-linejoin="round"/>
<polyline points="13.5,691.7 21,694.2 28.5,690.3 36,702.7 43.5,735.3 51,712 58.5,686.4 66,675.1 73.5,681 81,675.5 88.5,672.2 96,673.2 103.5,669.7 111,675.5 118.5,676.1 126,668.9 133.5,677.1 141,670.9 148.5,677.1 156,680 163.5,661.9 171,691 178.5,681.1 186,685.5 193.5,707.4 201,705.5 208.5,712.6 216,732.5 223.5,725.6 231,708.5 238.5,720.8 246,714.7 253.5,707.4 261,715.6 268.5,699.6 276,707.8 283.5,714.2 291,720.1 298.5,725.6 306,739.3 313.5,748.9 321,717.8 328.5,717.4 336,718.4 343.5,718.8 351,730.4 358.5,721.5 366,724.2 373.5,717.8 381,719.2 388.5,705.8 396,680.8 403.5,685.5 411,681.4 418.5,685.2 426,680.4 433.5,687.3 441,672.2 448.5,684.9 456,692.7 463.5,677.7 471,676.7 478.5,683.8 486,702 493.5,680 501,688.6 508.5,696.8 516,705.1 523.5,716.7 531,728.8 538.5,735.9 546,742.5 553.5,737.9 561,719.5 568.5,698.9 576,681.8 583.5,667.4 591,664.4 598.5,666.3 606,681.1 613.5,679.5 621,668.1 628.5,660.5 636,663 643.5,670.4 651,668.1 658.5,661.6 666,667.7 673.5,665.8 681,676.7 688.5,666.7 696,676.3 703.5,689.6 711,678.1 718.5,669 726,671.8 733.5,678.1 741,684.1 748.5,685.9 756,687.9 763.5,694.1 771,686.3 778.5,687.3 786,704.1 793.5,705.6 801,710.5 808.5,699.1 816,699.1 823.5,680.5 831,658.3 838.5,647.1 846,670.9 853.5,671.9 861,663.5 868.5,668.7 876,668.4 883.5,659.5 891,636 898.5,621.5 906,633 913.5,627.8 921,630.1 928.5,606 936,612.3 943.5,595.2 951,601.5 958.5,608 966,598.1 973.5,628 981,641.4 988.5,657.7 996,651 1003.5,655.9 1011,658.9 1018.5,658.9 1026,660.7 1033.5,654 1041,635.2 1048.5,642.9 1056,652.5 1063.5,654.5 1071,654.5 1078.5,654.8 1086,655.5 1093.5,651 1101,646.2 1108.5,663 1116,662.3 1123.5,688.3 1131,690.1 1138.5,681.4 1146,684.6 1153.5,698.3 1161,705.7 1168.5,689.7 1176,673.9 1183.5,663.2 1191,660.2 1198.5,654 1206,631.4 1213.5,644 1221,646.2 1228.5,650.9 1236,650.3 1243.5,638.3 1251,641.7 1258.5,645.6 1266,653.3 1273.5,667.7 1281,672.3 1288.5,669.5 1296,681.8 1303.5,687.3 1311,679.1 1318.5,718 1326,695.1 1333.5,681.8 1341,693.8 1348.5,704.3 1356,692.8 1363.5,705.4 1371,705.7 1378.5,704.7 1386,694.2 1393.5,690.3" fill="none" stroke="#7e57c2" stroke-width="1.5" stroke-linejoin="round"/>
</g>
<text x="23" y="59" font-size="15.8" fill="#131722" text-anchor="start" font-weight="normal" textLength="195" lengthAdjust="spacingAndGlyphs">SUI / TetherUS · 4h · Binance</text>
<text x="228.5" y="59" font-size="15.8" fill="#131722" text-anchor="start" font-weight="normal" textLength="9" lengthAdjust="spacingAndGlyphs">O</text>
<text x="238.1" y="59" font-size="15.8" fill="#1cbcd6" text-anchor="start" font-weight="normal" textLength="44.4" lengthAdjust="spacingAndGlyphs">0.8666</text>
<text x="292.5" y="59" font-size="15.8" fill="#131722" text-anchor="start" font-weight="normal" textLength="8.6" lengthAdjust="spacingAndGlyphs">H</text>
<text x="302" y="59" font-size="15.8" fill="#1cbcd6" text-anchor="start" font-weight="normal" textLength="44.5" lengthAdjust="spacingAndGlyphs">0.8755</text>
<text x="356.3" y="59" font-size="15.8" fill="#131722" text-anchor="start" font-weight="normal" textLength="6.8" lengthAdjust="spacingAndGlyphs">L</text>
<text x="363.8" y="59" font-size="15.8" fill="#1cbcd6" text-anchor="start" font-weight="normal" textLength="44" lengthAdjust="spacingAndGlyphs">0.8610</text>
<text x="417" y="59" font-size="15.8" fill="#131722" text-anchor="start" font-weight="normal" textLength="9" lengthAdjust="spacingAndGlyphs">C</text>
<text x="426.6" y="59" font-size="15.8" fill="#1cbcd6" text-anchor="start" font-weight="normal" textLength="44" lengthAdjust="spacingAndGlyphs">0.8690</text>
<text x="480.3" y="59" font-size="15.8" fill="#1cbcd6" text-anchor="start" font-weight="normal" textLength="113.2" lengthAdjust="spacingAndGlyphs">+0.0024 (+0.28%)</text>
<text x="23" y="80" font-size="15.8" fill="#131722" text-anchor="start" font-weight="normal" textLength="59" lengthAdjust="spacingAndGlyphs">Vol · SUI</text>
<text x="88.3" y="80" font-size="15.8" fill="#26a69a" text-anchor="start" font-weight="normal" textLength="41.7" lengthAdjust="spacingAndGlyphs">5.74M</text>
<text x="22.5" y="407" font-size="15.8" fill="#131722" text-anchor="start" font-weight="normal" textLength="157" lengthAdjust="spacingAndGlyphs">MACD (close, 12, 26, 9)</text>
<text x="189" y="407" font-size="15.8" fill="#ffcdd2" text-anchor="start" font-weight="normal" textLength="51" lengthAdjust="spacingAndGlyphs">−0.0031</text>
<text x="251" y="407" font-size="15.8" fill="#2962ff" text-anchor="start" font-weight="normal" textLength="51" lengthAdjust="spacingAndGlyphs">−0.0221</text>
<text x="313" y="407" font-size="15.8" fill="#ff6d00" text-anchor="start" font-weight="normal" textLength="52" lengthAdjust="spacingAndGlyphs">−0.0190</text>
<text x="23.6" y="598.7" font-size="15.8" fill="#131722" text-anchor="start" font-weight="normal" textLength="94" lengthAdjust="spacingAndGlyphs">RSI (14, close)</text>
<text x="127.8" y="598.7" font-size="15.8" fill="#7e57c2" text-anchor="start" font-weight="normal" textLength="35.8" lengthAdjust="spacingAndGlyphs">36.13</text>
<text x="173.9" y="598.7" font-size="15.8" fill="#fdd835" text-anchor="start" font-weight="normal" textLength="36.6" lengthAdjust="spacingAndGlyphs">34.44</text>
<text x="1483.9" y="60.8" font-size="15.4" fill="#131722" text-anchor="start" font-weight="normal" textLength="44.7" lengthAdjust="spacingAndGlyphs">1.8000</text>
<text x="1483.9" y="107.8" font-size="15.4" fill="#131722" text-anchor="start" font-weight="normal" textLength="44.7" lengthAdjust="spacingAndGlyphs">1.6000</text>
<text x="1483.9" y="154.6" font-size="15.4" fill="#131722" text-anchor="start" font-weight="normal" textLength="44.7" lengthAdjust="spacingAndGlyphs">1.4000</text>
<text x="1483.9" y="247.6" font-size="15.4" fill="#131722" text-anchor="start" font-weight="normal" textLength="44.7" lengthAdjust="spacingAndGlyphs">1.0000</text>
<text x="1483.9" y="340.8" font-size="15.4" fill="#131722" text-anchor="start" font-weight="normal" textLength="44.7" lengthAdjust="spacingAndGlyphs">0.6000</text>
<path d="M1473,115 H1532.5 Q1534.5,115 1534.5,117 V133.5 Q1534.5,135.5 1532.5,135.5 H1473 Z" fill="#2b2b2b"/>
<text x="1484" y="130.6" font-size="15.4" fill="#ffffff" text-anchor="start" font-weight="normal" textLength="45" lengthAdjust="spacingAndGlyphs">1.5000</text>
<path d="M1473,185 H1532.5 Q1534.5,185 1534.5,187 V203.5 Q1534.5,205.5 1532.5,205.5 H1473 Z" fill="#2b2b2b"/>
<text x="1484" y="200.5" font-size="15.4" fill="#ffffff" text-anchor="start" font-weight="normal" textLength="45" lengthAdjust="spacingAndGlyphs">1.2000</text>
<path d="M1473,242 H1532.8 Q1534.8,242 1534.8,244 V260.5 Q1534.8,262.5 1532.8,262.5 H1473 Z" fill="#2b2b2b"/>
<path d="M1473,262.5 H1532.8 Q1534.8,262.5 1534.8,264.5 V300 Q1534.8,302 1532.8,302 H1473 Z" fill="#2b2b2b"/>
<path d="M1473,302 H1532.8 Q1534.8,302 1534.8,304 V320.5 Q1534.8,322.5 1532.8,322.5 H1473 Z" fill="#2b2b2b"/>
<text x="1484" y="257.6" font-size="15.4" fill="#ffffff" text-anchor="start" font-weight="normal" textLength="45" lengthAdjust="spacingAndGlyphs">0.9000</text>
<text x="1484" y="278.7" font-size="15.4" fill="#ffffff" text-anchor="start" font-weight="normal" textLength="45" lengthAdjust="spacingAndGlyphs">0.8690</text>
<text x="1484" y="297" font-size="15.4" fill="#ffffff" text-anchor="start" font-weight="normal" textLength="37" lengthAdjust="spacingAndGlyphs">11:00</text>
<text x="1484" y="317.5" font-size="15.4" fill="#ffffff" text-anchor="start" font-weight="normal" textLength="45" lengthAdjust="spacingAndGlyphs">0.7000</text>
<path d="M1473,360 H1529.8 Q1531.8,360 1531.8,362 V379 Q1531.8,381 1529.8,381 H1473 Z" fill="#26a69a"/>
<text x="1484.6" y="375.8" font-size="15.4" fill="#ffffff" text-anchor="start" font-weight="normal" textLength="42.7" lengthAdjust="spacingAndGlyphs">5.74M</text>
<path d="M1473,434 H1541.5 Q1543.5,434 1543.5,436 V453 Q1543.5,455 1541.5,455 H1473 Z" fill="#ffcdd2"/>
<text x="1484.9" y="449.8" font-size="15.4" fill="#131722" text-anchor="start" font-weight="normal" textLength="51" lengthAdjust="spacingAndGlyphs">−0.0031</text>
<path d="M1473,461 H1541.5 Q1543.5,461 1543.5,463 V479.8 Q1543.5,481.8 1541.5,481.8 H1473 Z" fill="#ff6d00"/>
<text x="1484.9" y="476.7" font-size="15.4" fill="#ffffff" text-anchor="start" font-weight="normal" textLength="51" lengthAdjust="spacingAndGlyphs">−0.0190</text>
<path d="M1473,482 H1541.5 Q1543.5,482 1543.5,484 V500.7 Q1543.5,502.7 1541.5,502.7 H1473 Z" fill="#2962ff"/>
<text x="1484.9" y="497.6" font-size="15.4" fill="#ffffff" text-anchor="start" font-weight="normal" textLength="51" lengthAdjust="spacingAndGlyphs">−0.0221</text>
<text x="1484.9" y="526.3" font-size="15.4" fill="#131722" text-anchor="start" font-weight="normal" textLength="51" lengthAdjust="spacingAndGlyphs">−0.0500</text>
<text x="1483" y="627.6" font-size="15.4" fill="#131722" text-anchor="start" font-weight="normal" textLength="37.4" lengthAdjust="spacingAndGlyphs">60.00</text>
<text x="1483" y="685.5" font-size="15.4" fill="#131722" text-anchor="start" font-weight="normal" textLength="37.4" lengthAdjust="spacingAndGlyphs">40.00</text>
<text x="1483" y="742.9" font-size="15.4" fill="#131722" text-anchor="start" font-weight="normal" textLength="37.4" lengthAdjust="spacingAndGlyphs">20.00</text>
<path d="M1473,681 H1524.7 Q1526.7,681 1526.7,683 V700 Q1526.7,702 1524.7,702 H1473 Z" fill="#7e57c2"/>
<text x="1483" y="696.8" font-size="15.4" fill="#ffffff" text-anchor="start" font-weight="normal" textLength="37.4" lengthAdjust="spacingAndGlyphs">36.13</text>
<path d="M1473,702 H1524.7 Q1526.7,702 1526.7,704 V721 Q1526.7,723 1524.7,723 H1473 Z" fill="#fdd835"/>
<text x="1483" y="717.8" font-size="15.4" fill="#131722" text-anchor="start" font-weight="normal" textLength="37.4" lengthAdjust="spacingAndGlyphs">34.44</text>
<circle cx="1393.5" cy="364.3" r="12.3" fill="#ffffff" stroke="#9c27b0" stroke-width="1.8"/>
<polyline points="1397.6,358.3 1388.3,365.2 1399.2,363.6 1390,371.2" fill="none" stroke="#9c27b0" stroke-width="1.6" stroke-linejoin="miter" stroke-miterlimit="3"/>
<text x="58.5" y="789.3" font-size="15.5" fill="#131722" text-anchor="middle" font-weight="normal" textLength="15.2" lengthAdjust="spacingAndGlyphs">26</text>
<text x="148.5" y="789.3" font-size="15.5" fill="#131722" text-anchor="middle" font-weight="normal" textLength="15.2" lengthAdjust="spacingAndGlyphs">28</text>
<text x="238.5" y="789.3" font-size="15.5" fill="#131722" text-anchor="middle" font-weight="normal" textLength="15.2" lengthAdjust="spacingAndGlyphs">30</text>
<text x="328.5" y="789.3" font-size="15.5" fill="#131722" text-anchor="middle" font-weight="bold" textLength="24.2" lengthAdjust="spacingAndGlyphs">Feb</text>
<text x="418.5" y="789.3" font-size="15.5" fill="#131722" text-anchor="middle" font-weight="normal" textLength="7.6" lengthAdjust="spacingAndGlyphs">3</text>
<text x="508.5" y="789.3" font-size="15.5" fill="#131722" text-anchor="middle" font-weight="normal" textLength="7.6" lengthAdjust="spacingAndGlyphs">5</text>
<text x="598.5" y="789.3" font-size="15.5" fill="#131722" text-anchor="middle" font-weight="normal" textLength="7.6" lengthAdjust="spacingAndGlyphs">7</text>
<text x="688.5" y="789.3" font-size="15.5" fill="#131722" text-anchor="middle" font-weight="normal" textLength="7.6" lengthAdjust="spacingAndGlyphs">9</text>
<text x="778.5" y="789.3" font-size="15.5" fill="#131722" text-anchor="middle" font-weight="normal" textLength="15.2" lengthAdjust="spacingAndGlyphs">11</text>
<text x="868.5" y="789.3" font-size="15.5" fill="#131722" text-anchor="middle" font-weight="normal" textLength="15.2" lengthAdjust="spacingAndGlyphs">13</text>
<text x="958.5" y="789.3" font-size="15.5" fill="#131722" text-anchor="middle" font-weight="normal" textLength="15.2" lengthAdjust="spacingAndGlyphs">15</text>
<text x="1048.5" y="789.3" font-size="15.5" fill="#131722" text-anchor="middle" font-weight="normal" textLength="15.2" lengthAdjust="spacingAndGlyphs">17</text>
<text x="1138.5" y="789.3" font-size="15.5" fill="#131722" text-anchor="middle" font-weight="normal" textLength="15.2" lengthAdjust="spacingAndGlyphs">19</text>
<text x="1228.5" y="789.3" font-size="15.5" fill="#131722" text-anchor="middle" font-weight="normal" textLength="15.2" lengthAdjust="spacingAndGlyphs">21</text>
<text x="1318.5" y="789.3" font-size="15.5" fill="#131722" text-anchor="middle" font-weight="normal" textLength="15.2" lengthAdjust="spacingAndGlyphs">23</text>
<text x="1408.5" y="789.3" font-size="15.5" fill="#131722" text-anchor="middle" font-weight="normal" textLength="15.2" lengthAdjust="spacingAndGlyphs">25</text>
<path d="M15.3,828.4 H30.3 V846.9 H23.2 V835.6 H15.3 Z" fill="#131722"/>
<circle cx="36.7" cy="832.1" r="3.7" fill="#131722"/>
<path d="M44.3,828.4 H52.7 L45.8,846.9 H37.1 Z" fill="#131722"/>
<text x="61.7" y="847.2" font-size="26" fill="#131722" text-anchor="start" font-weight="bold" textLength="151.6" lengthAdjust="spacingAndGlyphs">TradingView</text>
</svg></body></html>
